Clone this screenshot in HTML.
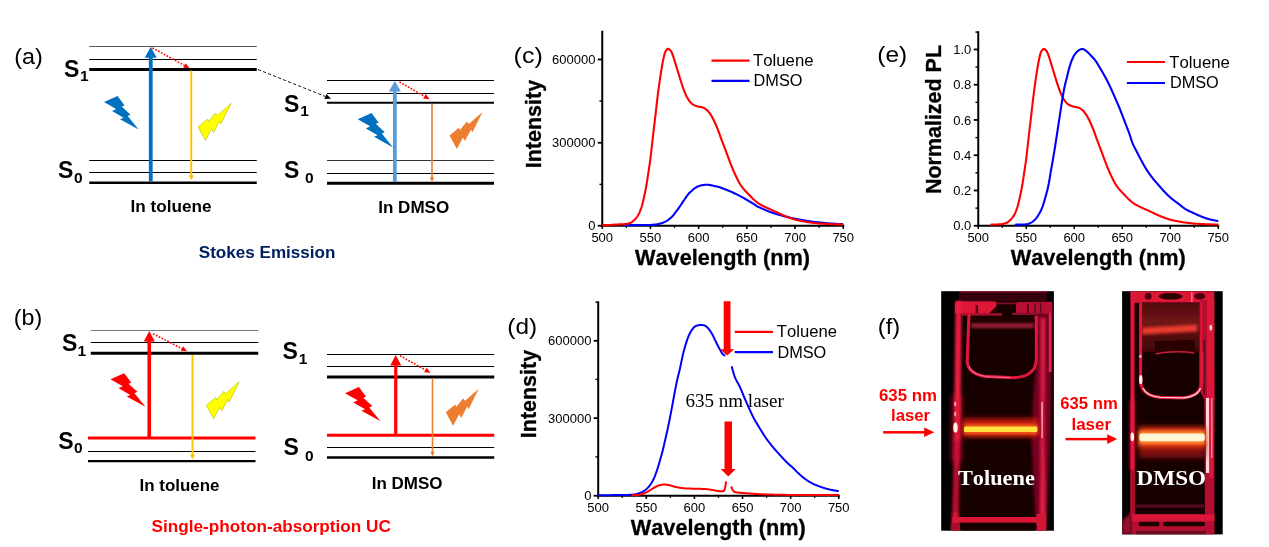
<!DOCTYPE html>
<html lang="en"><head><meta charset="utf-8"><title>Figure</title>
<style>html,body{margin:0;padding:0;background:#fff;}svg{display:block;will-change:transform}text{font-kerning:none}</style></head>
<body>
<svg width="1269" height="547" viewBox="0 0 1269 547">
<rect width="1269" height="547" fill="#fff"/>
<defs>
<filter id="b0" x="-5%" y="-5%" width="110%" height="110%"><feGaussianBlur stdDeviation="0.6"/></filter>
<filter id="b1" x="-50%" y="-50%" width="200%" height="200%"><feGaussianBlur stdDeviation="0.7"/></filter>
<filter id="b2" x="-50%" y="-50%" width="200%" height="200%"><feGaussianBlur stdDeviation="1.4"/></filter>
<filter id="b3" x="-50%" y="-50%" width="200%" height="200%"><feGaussianBlur stdDeviation="2.5"/></filter>
<filter id="b5" x="-50%" y="-50%" width="200%" height="200%"><feGaussianBlur stdDeviation="4.5"/></filter>
<clipPath id="cp1"><rect x="941.2" y="291.2" width="112.7" height="239.5"/></clipPath>
<clipPath id="cp2"><rect x="1122.1" y="291.2" width="100.6" height="243.2"/></clipPath>
</defs>
<text x="14.3" y="63.5" font-family="'Liberation Sans', Arial, sans-serif" font-size="22" font-weight="normal" fill="#000" text-anchor="start" textLength="28.6" lengthAdjust="spacingAndGlyphs" >(a)</text>
<line x1="89.25" y1="46.5" x2="256.75" y2="46.5" stroke="#555" stroke-width="1" />
<line x1="89.25" y1="59.5" x2="256.75" y2="59.5" stroke="#000" stroke-width="1" />
<line x1="89.25" y1="69.4" x2="256.75" y2="69.4" stroke="#000" stroke-width="3" />
<line x1="89.25" y1="160.5" x2="256.75" y2="160.5" stroke="#000" stroke-width="1" />
<line x1="89.25" y1="172.5" x2="256.75" y2="172.5" stroke="#000" stroke-width="1" />
<line x1="89.25" y1="182.75" x2="256.75" y2="182.75" stroke="#000" stroke-width="2.6" />
<rect x="190.3" y="70.5" width="1.9" height="105.80000000000001" fill="#ffc000"/>
<polygon points="191.25,180.3 193.75,175.3 188.75,175.3" fill="#ffc000"/>
<rect x="148.85" y="56.8" width="3.8" height="124.5" fill="#0070c0"/>
<polygon points="150.75,46.8 156.75,57.8 144.75,57.8" fill="#0070c0"/>
<line x1="152.5" y1="48" x2="184.41" y2="65.42" stroke="#ff0000" stroke-width="1.6" stroke-dasharray="1.7,1.5"/>
<polygon points="189.50,68.20 183.16,67.70 185.66,63.14" fill="#ff0000"/>
<polygon points="117.57,96.00 124.60,105.46 121.70,106.57 130.55,114.68 127.65,116.03 138.60,129.60 120.04,119.20 123.58,117.76 112.04,111.10 116.18,109.04 104.00,102.05" fill="#0070c0"/>
<polygon points="231.05,103.40 220.90,123.90 219.60,121.00 213.50,132.60 211.50,128.90 205.40,140.50 198.10,126.90 207.50,119.20 208.60,121.50 215.40,113.10 217.40,115.50" fill="#ffff00" stroke="#b9b900" stroke-width="0.6"/>
<text x="64" y="77" font-family="'Liberation Sans', Arial, sans-serif" font-size="23" font-weight="bold" fill="#000" text-anchor="start" >S</text>
<text x="80" y="81.25" font-family="'Liberation Sans', Arial, sans-serif" font-size="15.5" font-weight="bold" fill="#000" text-anchor="start" >1</text>
<text x="58" y="177.5" font-family="'Liberation Sans', Arial, sans-serif" font-size="23" font-weight="bold" fill="#000" text-anchor="start" >S</text>
<text x="74" y="182.5" font-family="'Liberation Sans', Arial, sans-serif" font-size="15.5" font-weight="bold" fill="#000" text-anchor="start" >0</text>
<text x="130.6" y="211.9" font-family="'Liberation Sans', Arial, sans-serif" font-size="17" font-weight="bold" fill="#000" text-anchor="start" textLength="81" lengthAdjust="spacingAndGlyphs" >In toluene</text>
<line x1="258" y1="69.5" x2="325.43" y2="96.52" stroke="#000" stroke-width="0.9" stroke-dasharray="3.2,2.2"/>
<polygon points="331.00,98.75 324.43,99.02 326.43,94.01" fill="#000"/>
<line x1="327" y1="80.5" x2="494" y2="80.5" stroke="#000" stroke-width="1" />
<line x1="327" y1="93.5" x2="494" y2="93.5" stroke="#000" stroke-width="1" />
<line x1="327" y1="102.75" x2="494" y2="102.75" stroke="#000" stroke-width="2.2" />
<line x1="327" y1="160.5" x2="494" y2="160.5" stroke="#333" stroke-width="1" />
<line x1="327" y1="173.5" x2="494" y2="173.5" stroke="#000" stroke-width="1" />
<line x1="327" y1="183.25" x2="494" y2="183.25" stroke="#000" stroke-width="3" />
<rect x="431.2" y="103.75" width="1.6" height="74.65" fill="#ed7d31"/>
<polygon points="432,182 434.2,177.4 429.8,177.4" fill="#ed7d31"/>
<rect x="392.95000000000005" y="90.5" width="3.8" height="91.5" fill="#5b9bd5"/>
<polygon points="394.85,81 400.85,91.5 388.85,91.5" fill="#5b9bd5"/>
<line x1="399.5" y1="82" x2="424.47" y2="96.32" stroke="#ff0000" stroke-width="1.6" stroke-dasharray="1.7,1.5"/>
<polygon points="429.50,99.20 423.18,98.57 425.76,94.06" fill="#ff0000"/>
<polygon points="371.55,112.90 378.72,122.64 375.76,123.79 384.79,132.13 381.83,133.53 393.00,147.50 374.06,136.79 377.67,135.31 365.91,128.45 370.12,126.33 357.70,119.13" fill="#0070c0"/>
<polygon points="482.50,111.90 472.35,132.40 471.05,129.50 464.95,141.10 462.95,137.40 456.85,149.00 449.55,135.40 458.95,127.70 460.05,130.00 466.85,121.60 468.85,124.00" fill="#ed7d31"/>
<text x="284" y="112" font-family="'Liberation Sans', Arial, sans-serif" font-size="23" font-weight="bold" fill="#000" text-anchor="start" >S</text>
<text x="300.3" y="116.25" font-family="'Liberation Sans', Arial, sans-serif" font-size="15.5" font-weight="bold" fill="#000" text-anchor="start" >1</text>
<text x="284" y="177.5" font-family="'Liberation Sans', Arial, sans-serif" font-size="23" font-weight="bold" fill="#000" text-anchor="start" >S</text>
<text x="305" y="182.5" font-family="'Liberation Sans', Arial, sans-serif" font-size="15.5" font-weight="bold" fill="#000" text-anchor="start" >0</text>
<text x="378.25" y="213" font-family="'Liberation Sans', Arial, sans-serif" font-size="17" font-weight="bold" fill="#000" text-anchor="start" textLength="71" lengthAdjust="spacingAndGlyphs" >In DMSO</text>
<text x="198.75" y="258" font-family="'Liberation Sans', Arial, sans-serif" font-size="17" font-weight="bold" fill="#002060" text-anchor="start" textLength="136.75" lengthAdjust="spacingAndGlyphs" >Stokes Emission</text>
<text x="13.8" y="325" font-family="'Liberation Sans', Arial, sans-serif" font-size="22" font-weight="normal" fill="#000" text-anchor="start" textLength="28.4" lengthAdjust="spacingAndGlyphs" >(b)</text>
<line x1="90.75" y1="330.5" x2="258.25" y2="330.5" stroke="#777" stroke-width="1" />
<line x1="90.75" y1="342.5" x2="258.25" y2="342.5" stroke="#000" stroke-width="1" />
<line x1="90.75" y1="353.25" x2="258.25" y2="353.25" stroke="#000" stroke-width="3" />
<line x1="88" y1="438" x2="255.5" y2="438" stroke="#ff0000" stroke-width="3" />
<line x1="88" y1="451.5" x2="255.5" y2="451.5" stroke="#000" stroke-width="1" />
<line x1="88" y1="461.1" x2="255.5" y2="461.1" stroke="#000" stroke-width="2.4" />
<rect x="191.5" y="355" width="1.9" height="100.5" fill="#ffc000"/>
<polygon points="192.45,459.5 194.95,454.5 189.95,454.5" fill="#ffc000"/>
<rect x="147.45" y="340.5" width="3.6" height="97.5" fill="#ff0000"/>
<polygon points="149.25,331 154.75,341.5 143.75,341.5" fill="#ff0000"/>
<line x1="153" y1="333.75" x2="181.84" y2="348.55" stroke="#ff0000" stroke-width="1.6" stroke-dasharray="1.7,1.5"/>
<polygon points="187.00,351.20 180.65,350.86 183.03,346.24" fill="#ff0000"/>
<polygon points="124.23,373.25 131.34,382.68 128.41,383.79 137.36,391.87 134.43,393.22 145.50,406.75 126.72,396.38 130.30,394.94 118.64,388.30 122.82,386.25 110.50,379.28" fill="#ff0000"/>
<polygon points="239.25,381.75 229.10,402.25 227.80,399.35 221.70,410.95 219.70,407.25 213.60,418.85 206.30,405.25 215.70,397.55 216.80,399.85 223.60,391.45 225.60,393.85" fill="#ffff00" stroke="#b9b900" stroke-width="0.6"/>
<text x="62" y="351.25" font-family="'Liberation Sans', Arial, sans-serif" font-size="23" font-weight="bold" fill="#000" text-anchor="start" >S</text>
<text x="77.5" y="355.5" font-family="'Liberation Sans', Arial, sans-serif" font-size="15.5" font-weight="bold" fill="#000" text-anchor="start" >1</text>
<text x="58.25" y="448.5" font-family="'Liberation Sans', Arial, sans-serif" font-size="23" font-weight="bold" fill="#000" text-anchor="start" >S</text>
<text x="74" y="453" font-family="'Liberation Sans', Arial, sans-serif" font-size="15.5" font-weight="bold" fill="#000" text-anchor="start" >0</text>
<text x="139.5" y="491" font-family="'Liberation Sans', Arial, sans-serif" font-size="17" font-weight="bold" fill="#000" text-anchor="start" textLength="80" lengthAdjust="spacingAndGlyphs" >In toluene</text>
<line x1="327" y1="354.5" x2="494.25" y2="354.5" stroke="#000" stroke-width="1" />
<line x1="327" y1="366.5" x2="494.25" y2="366.5" stroke="#000" stroke-width="1" />
<line x1="327" y1="377" x2="494.25" y2="377" stroke="#000" stroke-width="3" />
<line x1="327" y1="435.25" x2="494.25" y2="435.25" stroke="#ff0000" stroke-width="3" />
<line x1="327" y1="447.5" x2="494.25" y2="447.5" stroke="#000" stroke-width="1" />
<line x1="327" y1="457.5" x2="494.25" y2="457.5" stroke="#000" stroke-width="2.6" />
<rect x="431.7" y="378.25" width="1.6" height="74.45000000000002" fill="#ed7d31"/>
<polygon points="432.5,456.3 434.7,451.7 430.3,451.7" fill="#ed7d31"/>
<rect x="394.15" y="364.5" width="3.2" height="70.75" fill="#ff0000"/>
<polygon points="395.75,355 401.25,365.5 390.25,365.5" fill="#ff0000"/>
<line x1="400" y1="355.75" x2="425.44" y2="369.97" stroke="#ff0000" stroke-width="1.6" stroke-dasharray="1.7,1.5"/>
<polygon points="430.50,372.80 424.17,372.24 426.71,367.70" fill="#ff0000"/>
<polygon points="358.92,387.00 366.14,396.64 363.16,397.78 372.24,406.04 369.27,407.42 380.50,421.25 361.45,410.65 365.09,409.18 353.25,402.39 357.49,400.29 345.00,393.17" fill="#ff0000"/>
<polygon points="478.75,388.75 468.60,409.25 467.30,406.35 461.20,417.95 459.20,414.25 453.10,425.85 445.80,412.25 455.20,404.55 456.30,406.85 463.10,398.45 465.10,400.85" fill="#ed7d31"/>
<text x="282.5" y="358.5" font-family="'Liberation Sans', Arial, sans-serif" font-size="23" font-weight="bold" fill="#000" text-anchor="start" >S</text>
<text x="298.7" y="363.75" font-family="'Liberation Sans', Arial, sans-serif" font-size="15.5" font-weight="bold" fill="#000" text-anchor="start" >1</text>
<text x="283.5" y="454.5" font-family="'Liberation Sans', Arial, sans-serif" font-size="23" font-weight="bold" fill="#000" text-anchor="start" >S</text>
<text x="305" y="460.5" font-family="'Liberation Sans', Arial, sans-serif" font-size="15.5" font-weight="bold" fill="#000" text-anchor="start" >0</text>
<text x="371.75" y="488.5" font-family="'Liberation Sans', Arial, sans-serif" font-size="17" font-weight="bold" fill="#000" text-anchor="start" textLength="70.75" lengthAdjust="spacingAndGlyphs" >In DMSO</text>
<text x="151.6" y="532.1" font-family="'Liberation Sans', Arial, sans-serif" font-size="17" font-weight="bold" fill="#ff0000" text-anchor="start" textLength="239.25" lengthAdjust="spacingAndGlyphs" >Single-photon-absorption UC</text>
<text x="513.6" y="63" font-family="'Liberation Sans', Arial, sans-serif" font-size="22" font-weight="normal" fill="#000" text-anchor="start" textLength="29.2" lengthAdjust="spacingAndGlyphs" >(c)</text>
<line x1="602.25" y1="30.75" x2="602.25" y2="226.75" stroke="#000" stroke-width="2" />
<line x1="601.25" y1="225.75" x2="844.25" y2="225.75" stroke="#000" stroke-width="2" />
<line x1="597.75" y1="59.5" x2="602.25" y2="59.5" stroke="#000" stroke-width="1.8" />
<line x1="597.75" y1="142.75" x2="602.25" y2="142.75" stroke="#000" stroke-width="1.8" />
<line x1="597.75" y1="225.75" x2="602.25" y2="225.75" stroke="#000" stroke-width="1.8" />
<line x1="599.45" y1="101.1" x2="602.25" y2="101.1" stroke="#000" stroke-width="1.4" />
<line x1="599.45" y1="184.4" x2="602.25" y2="184.4" stroke="#000" stroke-width="1.4" />
<line x1="602.25" y1="225.75" x2="602.25" y2="228.95" stroke="#000" stroke-width="1.6" />
<text x="602.25" y="241.8" font-family="'Liberation Sans', Arial, sans-serif" font-size="13" font-weight="normal" fill="#000" text-anchor="middle" >500</text>
<line x1="650.45" y1="225.75" x2="650.45" y2="228.95" stroke="#000" stroke-width="1.6" />
<text x="650.45" y="241.8" font-family="'Liberation Sans', Arial, sans-serif" font-size="13" font-weight="normal" fill="#000" text-anchor="middle" >550</text>
<line x1="698.65" y1="225.75" x2="698.65" y2="228.95" stroke="#000" stroke-width="1.6" />
<text x="698.65" y="241.8" font-family="'Liberation Sans', Arial, sans-serif" font-size="13" font-weight="normal" fill="#000" text-anchor="middle" >600</text>
<line x1="746.85" y1="225.75" x2="746.85" y2="228.95" stroke="#000" stroke-width="1.6" />
<text x="746.85" y="241.8" font-family="'Liberation Sans', Arial, sans-serif" font-size="13" font-weight="normal" fill="#000" text-anchor="middle" >650</text>
<line x1="795.05" y1="225.75" x2="795.05" y2="228.95" stroke="#000" stroke-width="1.6" />
<text x="795.05" y="241.8" font-family="'Liberation Sans', Arial, sans-serif" font-size="13" font-weight="normal" fill="#000" text-anchor="middle" >700</text>
<line x1="843.25" y1="225.75" x2="843.25" y2="228.95" stroke="#000" stroke-width="1.6" />
<text x="843.25" y="241.8" font-family="'Liberation Sans', Arial, sans-serif" font-size="13" font-weight="normal" fill="#000" text-anchor="middle" >750</text>
<line x1="626.35" y1="225.75" x2="626.35" y2="227.95" stroke="#000" stroke-width="1.2" />
<line x1="674.55" y1="225.75" x2="674.55" y2="227.95" stroke="#000" stroke-width="1.2" />
<line x1="722.75" y1="225.75" x2="722.75" y2="227.95" stroke="#000" stroke-width="1.2" />
<line x1="770.95" y1="225.75" x2="770.95" y2="227.95" stroke="#000" stroke-width="1.2" />
<line x1="819.15" y1="225.75" x2="819.15" y2="227.95" stroke="#000" stroke-width="1.2" />
<text x="595.45" y="63.9" font-family="'Liberation Sans', Arial, sans-serif" font-size="13" font-weight="normal" fill="#000" text-anchor="end" >600000</text>
<text x="595.45" y="147.2" font-family="'Liberation Sans', Arial, sans-serif" font-size="13" font-weight="normal" fill="#000" text-anchor="end" >300000</text>
<text x="595.45" y="230.2" font-family="'Liberation Sans', Arial, sans-serif" font-size="13" font-weight="normal" fill="#000" text-anchor="end" >0</text>
<text x="635" y="265" font-family="'Liberation Sans', Arial, sans-serif" font-size="21.5" font-weight="bold" fill="#000" text-anchor="start" textLength="175" lengthAdjust="spacingAndGlyphs" stroke="#000" stroke-width="0.3">Wavelength (nm)</text>
<path d="M624.42,225.13 L624.90,225.13 L625.39,225.12 L625.87,225.12 L626.35,225.12 L626.83,225.12 L627.31,225.12 L627.80,225.12 L628.28,225.12 L628.76,225.12 L629.24,225.11 L629.72,225.11 L630.21,225.11 L630.69,225.11 L631.17,225.11 L631.65,225.11 L632.13,225.10 L632.62,225.10 L633.10,225.10 L633.58,225.09 L634.06,225.09 L634.54,225.08 L635.03,225.08 L635.51,225.07 L635.99,225.06 L636.47,225.06 L636.95,225.05 L637.44,225.05 L637.92,225.04 L638.40,225.04 L638.88,225.03 L639.36,225.03 L639.85,225.02 L640.33,225.02 L640.81,225.02 L641.29,225.01 L641.77,225.01 L642.26,225.01 L642.74,225.01 L643.22,225.00 L643.70,225.00 L644.18,225.00 L644.67,225.00 L645.15,224.99 L645.63,224.99 L646.11,224.99 L646.59,224.99 L647.08,224.98 L647.56,224.98 L648.04,224.97 L648.52,224.97 L649.00,224.96 L649.49,224.96 L649.97,224.95 L650.45,224.94 L650.93,224.93 L651.41,224.91 L651.90,224.88 L652.38,224.84 L652.86,224.80 L653.34,224.76 L653.82,224.71 L654.31,224.66 L654.79,224.61 L655.27,224.56 L655.75,224.50 L656.23,224.43 L656.72,224.35 L657.20,224.26 L657.68,224.17 L658.16,224.08 L658.64,223.98 L659.13,223.88 L659.61,223.76 L660.09,223.64 L660.57,223.50 L661.05,223.35 L661.54,223.20 L662.02,223.04 L662.50,222.87 L662.98,222.69 L663.46,222.51 L663.95,222.31 L664.43,222.10 L664.91,221.88 L665.39,221.64 L665.87,221.40 L666.36,221.13 L666.84,220.85 L667.32,220.54 L667.80,220.20 L668.28,219.84 L668.77,219.46 L669.25,219.07 L669.73,218.68 L670.21,218.29 L670.69,217.89 L671.18,217.48 L671.66,217.04 L672.14,216.59 L672.62,216.10 L673.10,215.56 L673.59,214.94 L674.07,214.28 L674.55,213.59 L675.03,212.92 L675.51,212.28 L676.00,211.67 L676.48,211.06 L676.96,210.44 L677.44,209.80 L677.92,209.16 L678.41,208.50 L678.89,207.83 L679.37,207.14 L679.85,206.44 L680.33,205.72 L680.82,204.99 L681.30,204.27 L681.78,203.55 L682.26,202.84 L682.74,202.12 L683.23,201.40 L683.71,200.69 L684.19,199.97 L684.67,199.25 L685.15,198.51 L685.64,197.79 L686.12,197.08 L686.60,196.40 L687.08,195.73 L687.56,195.08 L688.05,194.45 L688.53,193.85 L689.01,193.30 L689.49,192.81 L689.97,192.36 L690.46,191.94 L690.94,191.53 L691.42,191.11 L691.90,190.66 L692.38,190.18 L692.87,189.71 L693.35,189.28 L693.83,188.89 L694.31,188.53 L694.79,188.18 L695.28,187.85 L695.76,187.54 L696.24,187.26 L696.72,187.01 L697.20,186.77 L697.69,186.55 L698.17,186.34 L698.65,186.16 L699.13,185.98 L699.61,185.83 L700.10,185.69 L700.58,185.56 L701.06,185.43 L701.54,185.32 L702.02,185.22 L702.51,185.13 L702.99,185.06 L703.47,184.99 L703.95,184.93 L704.43,184.87 L704.92,184.82 L705.40,184.77 L705.88,184.74 L706.36,184.72 L706.84,184.71 L707.33,184.72 L707.81,184.75 L708.29,184.80 L708.77,184.87 L709.25,184.94 L709.74,185.02 L710.22,185.10 L710.70,185.19 L711.18,185.27 L711.66,185.35 L712.15,185.45 L712.63,185.56 L713.11,185.67 L713.59,185.78 L714.07,185.90 L714.56,186.02 L715.04,186.13 L715.52,186.25 L716.00,186.36 L716.48,186.48 L716.97,186.59 L717.45,186.71 L717.93,186.83 L718.41,186.96 L718.89,187.09 L719.38,187.22 L719.86,187.37 L720.34,187.52 L720.82,187.68 L721.30,187.85 L721.79,188.03 L722.27,188.21 L722.75,188.40 L723.23,188.58 L723.71,188.77 L724.20,188.95 L724.68,189.13 L725.16,189.32 L725.64,189.50 L726.12,189.69 L726.61,189.88 L727.09,190.07 L727.57,190.26 L728.05,190.46 L728.53,190.65 L729.02,190.85 L729.50,191.05 L729.98,191.25 L730.46,191.45 L730.94,191.66 L731.43,191.87 L731.91,192.08 L732.39,192.29 L732.87,192.51 L733.35,192.74 L733.84,192.97 L734.32,193.21 L734.80,193.45 L735.28,193.69 L735.76,193.93 L736.25,194.18 L736.73,194.42 L737.21,194.67 L737.69,194.91 L738.17,195.16 L738.66,195.41 L739.14,195.66 L739.62,195.91 L740.10,196.16 L740.58,196.42 L741.07,196.67 L741.55,196.92 L742.03,197.17 L742.51,197.42 L742.99,197.67 L743.48,197.93 L743.96,198.19 L744.44,198.46 L744.92,198.73 L745.40,199.01 L745.89,199.30 L746.37,199.59 L746.85,199.88 L747.33,200.18 L747.81,200.47 L748.30,200.77 L748.78,201.06 L749.26,201.35 L749.74,201.63 L750.22,201.91 L750.71,202.19 L751.19,202.46 L751.67,202.74 L752.15,203.02 L752.63,203.31 L753.12,203.60 L753.60,203.90 L754.08,204.21 L754.56,204.55 L755.04,204.89 L755.53,205.23 L756.01,205.56 L756.49,205.88 L756.97,206.18 L757.45,206.45 L757.94,206.70 L758.42,206.94 L758.90,207.17 L759.38,207.39 L759.86,207.60 L760.35,207.81 L760.83,208.02 L761.31,208.23 L761.79,208.45 L762.27,208.67 L762.76,208.88 L763.24,209.10 L763.72,209.31 L764.20,209.52 L764.68,209.73 L765.17,209.94 L765.65,210.15 L766.13,210.35 L766.61,210.55 L767.09,210.75 L767.58,210.95 L768.06,211.15 L768.54,211.35 L769.02,211.54 L769.50,211.73 L769.99,211.91 L770.47,212.09 L770.95,212.26 L771.43,212.43 L771.91,212.60 L772.40,212.77 L772.88,212.93 L773.36,213.10 L773.84,213.26 L774.32,213.41 L774.81,213.57 L775.29,213.72 L775.77,213.87 L776.25,214.02 L776.73,214.16 L777.22,214.30 L777.70,214.44 L778.18,214.58 L778.66,214.71 L779.14,214.85 L779.63,214.98 L780.11,215.11 L780.59,215.23 L781.07,215.36 L781.55,215.49 L782.04,215.61 L782.52,215.74 L783.00,215.86 L783.48,215.99 L783.96,216.12 L784.45,216.24 L784.93,216.37 L785.41,216.50 L785.89,216.62 L786.37,216.75 L786.86,216.87 L787.34,216.99 L787.82,217.11 L788.30,217.23 L788.78,217.35 L789.27,217.47 L789.75,217.58 L790.23,217.69 L790.71,217.81 L791.19,217.92 L791.68,218.03 L792.16,218.14 L792.64,218.25 L793.12,218.36 L793.60,218.46 L794.09,218.57 L794.57,218.67 L795.05,218.77 L795.53,218.86 L796.01,218.96 L796.50,219.05 L796.98,219.14 L797.46,219.22 L797.94,219.31 L798.42,219.39 L798.91,219.48 L799.39,219.56 L799.87,219.64 L800.35,219.72 L800.83,219.80 L801.32,219.88 L801.80,219.96 L802.28,220.04 L802.76,220.13 L803.24,220.21 L803.73,220.29 L804.21,220.38 L804.69,220.47 L805.17,220.56 L805.65,220.65 L806.14,220.73 L806.62,220.82 L807.10,220.91 L807.58,220.99 L808.06,221.08 L808.55,221.16 L809.03,221.24 L809.51,221.32 L809.99,221.39 L810.47,221.46 L810.96,221.52 L811.44,221.58 L811.92,221.64 L812.40,221.70 L812.88,221.76 L813.37,221.82 L813.85,221.87 L814.33,221.92 L814.81,221.97 L815.29,222.02 L815.78,222.08 L816.26,222.13 L816.74,222.18 L817.22,222.23 L817.70,222.28 L818.19,222.33 L818.67,222.38 L819.15,222.43 L819.63,222.48 L820.11,222.54 L820.60,222.59 L821.08,222.64 L821.56,222.69 L822.04,222.74 L822.52,222.79 L823.01,222.84 L823.49,222.89 L823.97,222.93 L824.45,222.98 L824.93,223.03 L825.42,223.07 L825.90,223.11 L826.38,223.16 L826.86,223.20 L827.34,223.24 L827.83,223.28 L828.31,223.32 L828.79,223.37 L829.27,223.41 L829.75,223.45 L830.24,223.48 L830.72,223.52 L831.20,223.56 L831.68,223.60 L832.16,223.63 L832.65,223.67 L833.13,223.70 L833.61,223.73 L834.09,223.76 L834.57,223.79 L835.06,223.81 L835.54,223.84 L836.02,223.87 L836.50,223.89 L836.98,223.92 L837.47,223.94 L837.95,223.97 L838.43,223.99 L838.91,224.01 L839.39,224.04 L839.88,224.06 L840.36,224.08 L840.84,224.10 L841.32,224.11 L841.80,224.13 L842.29,224.15 L842.77,224.16 L843.25,224.18" fill="none" stroke="#0000ff" stroke-width="2.1" stroke-linejoin="round"/>
<path d="M602.25,225.15 L602.73,225.15 L603.21,225.15 L603.70,225.14 L604.18,225.14 L604.66,225.13 L605.14,225.12 L605.62,225.11 L606.11,225.10 L606.59,225.08 L607.07,225.07 L607.55,225.06 L608.03,225.04 L608.52,225.03 L609.00,225.01 L609.48,224.99 L609.96,224.97 L610.44,224.95 L610.93,224.92 L611.41,224.89 L611.89,224.85 L612.37,224.80 L612.85,224.76 L613.34,224.72 L613.82,224.68 L614.30,224.64 L614.78,224.61 L615.26,224.58 L615.75,224.56 L616.23,224.53 L616.71,224.51 L617.19,224.49 L617.67,224.47 L618.16,224.46 L618.64,224.44 L619.12,224.42 L619.60,224.41 L620.08,224.39 L620.57,224.37 L621.05,224.35 L621.53,224.33 L622.01,224.31 L622.49,224.28 L622.98,224.26 L623.46,224.23 L623.94,224.20 L624.42,224.16 L624.90,224.13 L625.39,224.08 L625.87,224.03 L626.35,223.96 L626.83,223.87 L627.31,223.77 L627.80,223.65 L628.28,223.52 L628.76,223.38 L629.24,223.23 L629.72,223.07 L630.21,222.89 L630.69,222.70 L631.17,222.45 L631.65,222.16 L632.13,221.83 L632.62,221.47 L633.10,221.08 L633.58,220.66 L634.06,220.22 L634.54,219.78 L635.03,219.31 L635.51,218.80 L635.99,218.24 L636.47,217.65 L636.95,217.00 L637.44,216.30 L637.92,215.55 L638.40,214.75 L638.88,213.85 L639.36,212.83 L639.85,211.71 L640.33,210.48 L640.81,209.15 L641.29,207.75 L641.77,206.24 L642.26,204.53 L642.74,202.65 L643.22,200.65 L643.70,198.56 L644.18,196.44 L644.67,194.23 L645.15,191.91 L645.63,189.48 L646.11,186.92 L646.59,184.22 L647.08,181.27 L647.56,178.10 L648.04,174.84 L648.52,171.62 L649.00,168.50 L649.49,165.35 L649.97,162.04 L650.45,158.41 L650.93,154.37 L651.41,150.14 L651.90,145.93 L652.38,141.63 L652.86,137.32 L653.34,133.07 L653.82,128.95 L654.31,124.92 L654.79,120.92 L655.27,116.84 L655.75,112.61 L656.23,108.24 L656.72,103.90 L657.20,99.79 L657.68,95.92 L658.16,92.17 L658.64,88.54 L659.13,85.02 L659.61,81.60 L660.09,78.27 L660.57,75.04 L661.05,71.94 L661.54,68.98 L662.02,66.14 L662.50,63.38 L662.98,60.80 L663.46,58.54 L663.95,56.45 L664.43,54.46 L664.91,52.80 L665.39,51.66 L665.87,50.88 L666.36,50.17 L666.84,49.58 L667.32,49.14 L667.80,48.88 L668.28,48.85 L668.77,49.01 L669.25,49.31 L669.73,49.72 L670.21,50.23 L670.69,50.78 L671.18,51.40 L671.66,52.30 L672.14,53.46 L672.62,54.80 L673.10,56.20 L673.59,57.58 L674.07,59.02 L674.55,60.58 L675.03,62.19 L675.51,63.82 L676.00,65.41 L676.48,66.97 L676.96,68.53 L677.44,70.09 L677.92,71.65 L678.41,73.21 L678.89,74.78 L679.37,76.36 L679.85,77.94 L680.33,79.50 L680.82,81.03 L681.30,82.53 L681.78,84.01 L682.26,85.47 L682.74,86.89 L683.23,88.25 L683.71,89.55 L684.19,90.82 L684.67,92.06 L685.15,93.26 L685.64,94.40 L686.12,95.47 L686.60,96.44 L687.08,97.34 L687.56,98.18 L688.05,98.96 L688.53,99.69 L689.01,100.37 L689.49,101.01 L689.97,101.63 L690.46,102.23 L690.94,102.79 L691.42,103.30 L691.90,103.73 L692.38,104.09 L692.87,104.40 L693.35,104.69 L693.83,104.95 L694.31,105.20 L694.79,105.42 L695.28,105.63 L695.76,105.83 L696.24,106.00 L696.72,106.17 L697.20,106.32 L697.69,106.45 L698.17,106.56 L698.65,106.67 L699.13,106.75 L699.61,106.84 L700.10,106.92 L700.58,107.00 L701.06,107.09 L701.54,107.19 L702.02,107.30 L702.51,107.43 L702.99,107.58 L703.47,107.77 L703.95,108.00 L704.43,108.27 L704.92,108.57 L705.40,108.89 L705.88,109.24 L706.36,109.61 L706.84,110.00 L707.33,110.44 L707.81,110.93 L708.29,111.47 L708.77,112.05 L709.25,112.66 L709.74,113.31 L710.22,113.98 L710.70,114.68 L711.18,115.44 L711.66,116.26 L712.15,117.13 L712.63,118.05 L713.11,118.99 L713.59,119.95 L714.07,120.93 L714.56,121.92 L715.04,122.95 L715.52,124.02 L716.00,125.12 L716.48,126.24 L716.97,127.39 L717.45,128.57 L717.93,129.77 L718.41,131.00 L718.89,132.30 L719.38,133.63 L719.86,134.98 L720.34,136.34 L720.82,137.70 L721.30,139.03 L721.79,140.33 L722.27,141.61 L722.75,142.88 L723.23,144.14 L723.71,145.40 L724.20,146.65 L724.68,147.91 L725.16,149.18 L725.64,150.46 L726.12,151.75 L726.61,153.04 L727.09,154.34 L727.57,155.63 L728.05,156.93 L728.53,158.21 L729.02,159.49 L729.50,160.76 L729.98,162.03 L730.46,163.31 L730.94,164.57 L731.43,165.81 L731.91,167.03 L732.39,168.20 L732.87,169.34 L733.35,170.47 L733.84,171.57 L734.32,172.65 L734.80,173.72 L735.28,174.76 L735.76,175.78 L736.25,176.78 L736.73,177.76 L737.21,178.73 L737.69,179.69 L738.17,180.64 L738.66,181.55 L739.14,182.44 L739.62,183.28 L740.10,184.07 L740.58,184.82 L741.07,185.54 L741.55,186.23 L742.03,186.90 L742.51,187.54 L742.99,188.17 L743.48,188.77 L743.96,189.36 L744.44,189.93 L744.92,190.47 L745.40,191.00 L745.89,191.51 L746.37,192.01 L746.85,192.51 L747.33,192.99 L747.81,193.48 L748.30,193.97 L748.78,194.47 L749.26,194.98 L749.74,195.49 L750.22,196.00 L750.71,196.51 L751.19,197.02 L751.67,197.53 L752.15,198.02 L752.63,198.50 L753.12,198.96 L753.60,199.41 L754.08,199.84 L754.56,200.27 L755.04,200.70 L755.53,201.11 L756.01,201.52 L756.49,201.91 L756.97,202.29 L757.45,202.66 L757.94,203.01 L758.42,203.34 L758.90,203.65 L759.38,203.95 L759.86,204.24 L760.35,204.52 L760.83,204.79 L761.31,205.05 L761.79,205.31 L762.27,205.56 L762.76,205.80 L763.24,206.04 L763.72,206.28 L764.20,206.51 L764.68,206.75 L765.17,206.98 L765.65,207.21 L766.13,207.44 L766.61,207.67 L767.09,207.89 L767.58,208.11 L768.06,208.32 L768.54,208.53 L769.02,208.74 L769.50,208.95 L769.99,209.16 L770.47,209.36 L770.95,209.57 L771.43,209.78 L771.91,210.00 L772.40,210.21 L772.88,210.43 L773.36,210.65 L773.84,210.88 L774.32,211.10 L774.81,211.33 L775.29,211.57 L775.77,211.80 L776.25,212.03 L776.73,212.27 L777.22,212.50 L777.70,212.73 L778.18,212.97 L778.66,213.20 L779.14,213.42 L779.63,213.65 L780.11,213.87 L780.59,214.09 L781.07,214.30 L781.55,214.52 L782.04,214.73 L782.52,214.94 L783.00,215.16 L783.48,215.37 L783.96,215.58 L784.45,215.78 L784.93,215.99 L785.41,216.19 L785.89,216.39 L786.37,216.58 L786.86,216.78 L787.34,216.96 L787.82,217.14 L788.30,217.32 L788.78,217.50 L789.27,217.68 L789.75,217.85 L790.23,218.02 L790.71,218.19 L791.19,218.36 L791.68,218.52 L792.16,218.68 L792.64,218.84 L793.12,218.99 L793.60,219.14 L794.09,219.28 L794.57,219.42 L795.05,219.56 L795.53,219.68 L796.01,219.81 L796.50,219.93 L796.98,220.04 L797.46,220.15 L797.94,220.26 L798.42,220.37 L798.91,220.47 L799.39,220.58 L799.87,220.67 L800.35,220.77 L800.83,220.87 L801.32,220.96 L801.80,221.05 L802.28,221.15 L802.76,221.24 L803.24,221.32 L803.73,221.41 L804.21,221.50 L804.69,221.59 L805.17,221.68 L805.65,221.76 L806.14,221.85 L806.62,221.93 L807.10,222.01 L807.58,222.09 L808.06,222.16 L808.55,222.24 L809.03,222.31 L809.51,222.38 L809.99,222.44 L810.47,222.51 L810.96,222.57 L811.44,222.63 L811.92,222.68 L812.40,222.74 L812.88,222.80 L813.37,222.86 L813.85,222.91 L814.33,222.97 L814.81,223.02 L815.29,223.08 L815.78,223.13 L816.26,223.18 L816.74,223.23 L817.22,223.28 L817.70,223.33 L818.19,223.37 L818.67,223.42 L819.15,223.46 L819.63,223.50 L820.11,223.54 L820.60,223.58 L821.08,223.61 L821.56,223.65 L822.04,223.68 L822.52,223.71 L823.01,223.73 L823.49,223.76 L823.97,223.79 L824.45,223.81 L824.93,223.84 L825.42,223.86 L825.90,223.89 L826.38,223.91 L826.86,223.94 L827.34,223.96 L827.83,223.99 L828.31,224.01 L828.79,224.03 L829.27,224.06 L829.75,224.08 L830.24,224.10 L830.72,224.12 L831.20,224.14 L831.68,224.17 L832.16,224.19 L832.65,224.21 L833.13,224.22 L833.61,224.24 L834.09,224.26 L834.57,224.28 L835.06,224.30 L835.54,224.31 L836.02,224.33 L836.50,224.34 L836.98,224.35 L837.47,224.37 L837.95,224.38 L838.43,224.39 L838.91,224.40 L839.39,224.41 L839.88,224.42 L840.36,224.42 L840.84,224.43 L841.32,224.44 L841.80,224.44 L842.29,224.44 L842.77,224.44 L843.25,224.44" fill="none" stroke="#ff0000" stroke-width="2.1" stroke-linejoin="round"/>
<line x1="711.5" y1="60.6" x2="749.5" y2="60.6" stroke="#ff0000" stroke-width="2.2" />
<line x1="711.5" y1="80.9" x2="749.5" y2="80.9" stroke="#0000ff" stroke-width="2.2" />
<text x="753" y="65.9" font-family="'Liberation Sans', Arial, sans-serif" font-size="16.3" font-weight="normal" fill="#000" text-anchor="start" textLength="60.6" lengthAdjust="spacingAndGlyphs" >Toluene</text>
<text x="753.6" y="86.4" font-family="'Liberation Sans', Arial, sans-serif" font-size="16.3" font-weight="normal" fill="#000" text-anchor="start" >DMSO</text>
<text transform="translate(541.3,168.3) rotate(-90)" font-family="'Liberation Sans', Arial, sans-serif" font-size="21.5" font-weight="bold" stroke="#000" stroke-width="0.3" textLength="88.5" lengthAdjust="spacingAndGlyphs">Intensity</text>
<text x="507.3" y="334.2" font-family="'Liberation Sans', Arial, sans-serif" font-size="22" font-weight="normal" fill="#000" text-anchor="start" textLength="29.8" lengthAdjust="spacingAndGlyphs" >(d)</text>
<line x1="598.2" y1="301.3" x2="598.2" y2="496.75" stroke="#000" stroke-width="2" />
<line x1="597.2" y1="495.75" x2="839.75" y2="495.75" stroke="#000" stroke-width="2" />
<line x1="593.7" y1="340.8" x2="598.2" y2="340.8" stroke="#000" stroke-width="1.8" />
<line x1="593.7" y1="418.1" x2="598.2" y2="418.1" stroke="#000" stroke-width="1.8" />
<line x1="593.7" y1="495.75" x2="598.2" y2="495.75" stroke="#000" stroke-width="1.8" />
<line x1="595.4000000000001" y1="302.2" x2="598.2" y2="302.2" stroke="#000" stroke-width="1.4" />
<line x1="595.4000000000001" y1="379.4" x2="598.2" y2="379.4" stroke="#000" stroke-width="1.4" />
<line x1="595.4000000000001" y1="456.9" x2="598.2" y2="456.9" stroke="#000" stroke-width="1.4" />
<line x1="598.2" y1="495.75" x2="598.2" y2="498.95" stroke="#000" stroke-width="1.6" />
<text x="598.2" y="512.3" font-family="'Liberation Sans', Arial, sans-serif" font-size="13" font-weight="normal" fill="#000" text-anchor="middle" >500</text>
<line x1="646.3100000000001" y1="495.75" x2="646.3100000000001" y2="498.95" stroke="#000" stroke-width="1.6" />
<text x="646.31" y="512.3" font-family="'Liberation Sans', Arial, sans-serif" font-size="13" font-weight="normal" fill="#000" text-anchor="middle" >550</text>
<line x1="694.4200000000001" y1="495.75" x2="694.4200000000001" y2="498.95" stroke="#000" stroke-width="1.6" />
<text x="694.42" y="512.3" font-family="'Liberation Sans', Arial, sans-serif" font-size="13" font-weight="normal" fill="#000" text-anchor="middle" >600</text>
<line x1="742.5300000000001" y1="495.75" x2="742.5300000000001" y2="498.95" stroke="#000" stroke-width="1.6" />
<text x="742.53" y="512.3" font-family="'Liberation Sans', Arial, sans-serif" font-size="13" font-weight="normal" fill="#000" text-anchor="middle" >650</text>
<line x1="790.6400000000001" y1="495.75" x2="790.6400000000001" y2="498.95" stroke="#000" stroke-width="1.6" />
<text x="790.64" y="512.3" font-family="'Liberation Sans', Arial, sans-serif" font-size="13" font-weight="normal" fill="#000" text-anchor="middle" >700</text>
<line x1="838.75" y1="495.75" x2="838.75" y2="498.95" stroke="#000" stroke-width="1.6" />
<text x="838.75" y="512.3" font-family="'Liberation Sans', Arial, sans-serif" font-size="13" font-weight="normal" fill="#000" text-anchor="middle" >750</text>
<line x1="622.255" y1="495.75" x2="622.255" y2="497.95" stroke="#000" stroke-width="1.2" />
<line x1="670.365" y1="495.75" x2="670.365" y2="497.95" stroke="#000" stroke-width="1.2" />
<line x1="718.475" y1="495.75" x2="718.475" y2="497.95" stroke="#000" stroke-width="1.2" />
<line x1="766.585" y1="495.75" x2="766.585" y2="497.95" stroke="#000" stroke-width="1.2" />
<line x1="814.695" y1="495.75" x2="814.695" y2="497.95" stroke="#000" stroke-width="1.2" />
<text x="591.4000000000001" y="345.2" font-family="'Liberation Sans', Arial, sans-serif" font-size="13" font-weight="normal" fill="#000" text-anchor="end" >600000</text>
<text x="591.4000000000001" y="422.5" font-family="'Liberation Sans', Arial, sans-serif" font-size="13" font-weight="normal" fill="#000" text-anchor="end" >300000</text>
<text x="591.4000000000001" y="500.2" font-family="'Liberation Sans', Arial, sans-serif" font-size="13" font-weight="normal" fill="#000" text-anchor="end" >0</text>
<text x="630.75" y="535.25" font-family="'Liberation Sans', Arial, sans-serif" font-size="21.5" font-weight="bold" fill="#000" text-anchor="start" textLength="175" lengthAdjust="spacingAndGlyphs" stroke="#000" stroke-width="0.3">Wavelength (nm)</text>
<path d="M598.20,495.15 L598.58,495.15 L598.97,495.15 L599.35,495.15 L599.74,495.15 L600.12,495.15 L600.51,495.15 L600.89,495.15 L601.28,495.15 L601.66,495.15 L602.05,495.15 L602.43,495.15 L602.82,495.15 L603.20,495.15 L603.59,495.15 L603.97,495.15 L604.36,495.14 L604.74,495.14 L605.13,495.14 L605.51,495.14 L605.90,495.14 L606.28,495.14 L606.67,495.14 L607.05,495.14 L607.44,495.14 L607.82,495.14 L608.21,495.14 L608.59,495.14 L608.98,495.13 L609.36,495.13 L609.75,495.13 L610.13,495.13 L610.52,495.13 L610.90,495.13 L611.29,495.13 L611.67,495.13 L612.06,495.13 L612.44,495.12 L612.83,495.12 L613.21,495.12 L613.60,495.12 L613.98,495.12 L614.36,495.12 L614.75,495.12 L615.13,495.11 L615.52,495.11 L615.90,495.11 L616.29,495.10 L616.67,495.10 L617.06,495.10 L617.44,495.10 L617.83,495.09 L618.21,495.09 L618.60,495.08 L618.98,495.08 L619.37,495.08 L619.75,495.07 L620.14,495.07 L620.52,495.06 L620.91,495.06 L621.29,495.05 L621.68,495.05 L622.06,495.04 L622.45,495.04 L622.83,495.03 L623.22,495.02 L623.60,495.02 L623.99,495.01 L624.37,495.00 L624.76,495.00 L625.14,494.99 L625.53,494.98 L625.91,494.97 L626.30,494.96 L626.68,494.95 L627.07,494.94 L627.45,494.92 L627.84,494.91 L628.22,494.89 L628.61,494.87 L628.99,494.86 L629.38,494.84 L629.76,494.82 L630.15,494.79 L630.53,494.77 L630.91,494.74 L631.30,494.72 L631.68,494.69 L632.07,494.66 L632.45,494.63 L632.84,494.60 L633.22,494.56 L633.61,494.53 L633.99,494.49 L634.38,494.45 L634.76,494.41 L635.15,494.37 L635.53,494.30 L635.92,494.23 L636.30,494.14 L636.69,494.03 L637.07,493.92 L637.46,493.79 L637.84,493.66 L638.23,493.52 L638.61,493.38 L639.00,493.24 L639.38,493.09 L639.77,492.94 L640.15,492.80 L640.54,492.64 L640.92,492.48 L641.31,492.32 L641.69,492.14 L642.08,491.96 L642.46,491.77 L642.85,491.57 L643.23,491.36 L643.62,491.14 L644.00,490.90 L644.39,490.66 L644.77,490.41 L645.16,490.14 L645.54,489.85 L645.93,489.53 L646.31,489.20 L646.69,488.84 L647.08,488.47 L647.46,488.08 L647.85,487.67 L648.23,487.25 L648.62,486.81 L649.00,486.36 L649.39,485.89 L649.77,485.41 L650.16,484.91 L650.54,484.37 L650.93,483.81 L651.31,483.21 L651.70,482.58 L652.08,481.92 L652.47,481.23 L652.85,480.52 L653.24,479.78 L653.62,479.00 L654.01,478.18 L654.39,477.29 L654.78,476.35 L655.16,475.36 L655.55,474.34 L655.93,473.28 L656.32,472.20 L656.70,471.11 L657.09,469.98 L657.47,468.81 L657.86,467.59 L658.24,466.33 L658.63,465.05 L659.01,463.75 L659.40,462.43 L659.78,461.11 L660.17,459.79 L660.55,458.45 L660.94,457.09 L661.32,455.71 L661.71,454.30 L662.09,452.87 L662.47,451.41 L662.86,449.90 L663.24,448.35 L663.63,446.73 L664.01,445.07 L664.40,443.38 L664.78,441.69 L665.17,440.01 L665.55,438.35 L665.94,436.69 L666.32,435.03 L666.71,433.35 L667.09,431.64 L667.48,429.89 L667.86,428.09 L668.25,426.25 L668.63,424.37 L669.02,422.46 L669.40,420.53 L669.79,418.59 L670.17,416.64 L670.56,414.67 L670.94,412.69 L671.33,410.68 L671.71,408.65 L672.10,406.61 L672.48,404.54 L672.87,402.43 L673.25,400.28 L673.64,398.13 L674.02,396.01 L674.41,393.92 L674.79,391.89 L675.18,389.89 L675.56,387.91 L675.95,385.96 L676.33,384.05 L676.72,382.20 L677.10,380.41 L677.49,378.70 L677.87,377.09 L678.26,375.54 L678.64,374.02 L679.02,372.49 L679.41,370.94 L679.79,369.31 L680.18,367.59 L680.56,365.78 L680.95,363.90 L681.33,361.99 L681.72,360.10 L682.10,358.24 L682.49,356.46 L682.87,354.80 L683.26,353.23 L683.64,351.71 L684.03,350.24 L684.41,348.82 L684.80,347.46 L685.18,346.14 L685.57,344.86 L685.95,343.60 L686.34,342.37 L686.72,341.16 L687.11,339.99 L687.49,338.88 L687.88,337.83 L688.26,336.85 L688.65,335.95 L689.03,335.10 L689.42,334.27 L689.80,333.47 L690.19,332.71 L690.57,331.99 L690.96,331.31 L691.34,330.68 L691.73,330.09 L692.11,329.56 L692.50,329.08 L692.88,328.61 L693.27,328.15 L693.65,327.71 L694.04,327.30 L694.42,326.93 L694.80,326.59 L695.19,326.31 L695.57,326.08 L695.96,325.91 L696.34,325.79 L696.73,325.67 L697.11,325.55 L697.50,325.45 L697.88,325.35 L698.27,325.26 L698.65,325.18 L699.04,325.11 L699.42,325.05 L699.81,325.00 L700.19,324.96 L700.58,324.94 L700.96,324.94 L701.35,324.94 L701.73,324.97 L702.12,325.01 L702.50,325.06 L702.89,325.12 L703.27,325.20 L703.66,325.28 L704.04,325.38 L704.43,325.48 L704.81,325.58 L705.20,325.74 L705.58,325.95 L705.97,326.22 L706.35,326.53 L706.74,326.87 L707.12,327.25 L707.51,327.64 L707.89,328.05 L708.28,328.47 L708.66,328.88 L709.05,329.34 L709.43,329.84 L709.82,330.38 L710.20,330.95 L710.58,331.55 L710.97,332.17 L711.35,332.81 L711.74,333.46 L712.12,334.12 L712.51,334.80 L712.89,335.53 L713.28,336.30 L713.66,337.09 L714.05,337.91 L714.43,338.73 L714.82,339.56 L715.20,340.38 L715.59,341.18 L715.97,341.95 L716.36,342.72 L716.74,343.49 L717.13,344.26 L717.51,345.02 L717.90,345.78 L718.28,346.53 L718.67,347.27 L719.05,347.99 L719.44,348.69 L719.82,349.38 L720.21,350.09 L720.59,350.81 L720.98,351.54 L721.36,352.24 L721.75,352.88 L722.13,353.46 L722.52,353.93 L722.90,354.29 L723.29,354.60 L723.67,354.89 L724.06,355.14 L724.44,355.36 L724.83,355.52 L725.21,355.61 L725.31,355.62 M731.66,366.32 L732.04,367.81 L732.43,369.25 L732.81,370.58 L733.20,371.89 L733.58,373.17 L733.97,374.41 L734.35,375.58 L734.74,376.66 L735.12,377.65 L735.51,378.55 L735.89,379.38 L736.28,380.16 L736.66,380.89 L737.05,381.59 L737.43,382.27 L737.82,382.94 L738.20,383.62 L738.58,384.32 L738.97,385.04 L739.35,385.81 L739.74,386.62 L740.12,387.47 L740.51,388.34 L740.89,389.23 L741.28,390.14 L741.66,391.07 L742.05,392.00 L742.43,392.94 L742.82,393.88 L743.20,394.82 L743.59,395.76 L743.97,396.68 L744.36,397.60 L744.74,398.49 L745.13,399.38 L745.51,400.26 L745.90,401.15 L746.28,402.03 L746.67,402.91 L747.05,403.78 L747.44,404.65 L747.82,405.52 L748.21,406.38 L748.59,407.23 L748.98,408.08 L749.36,408.93 L749.75,409.77 L750.13,410.61 L750.52,411.45 L750.90,412.29 L751.29,413.12 L751.67,413.95 L752.06,414.76 L752.44,415.56 L752.83,416.35 L753.21,417.11 L753.60,417.85 L753.98,418.57 L754.37,419.27 L754.75,419.96 L755.13,420.64 L755.52,421.30 L755.90,421.96 L756.29,422.61 L756.67,423.25 L757.06,423.88 L757.44,424.51 L757.83,425.14 L758.21,425.77 L758.60,426.40 L758.98,427.03 L759.37,427.66 L759.75,428.29 L760.14,428.92 L760.52,429.56 L760.91,430.19 L761.29,430.82 L761.68,431.44 L762.06,432.07 L762.45,432.69 L762.83,433.30 L763.22,433.92 L763.60,434.52 L763.99,435.12 L764.37,435.72 L764.76,436.30 L765.14,436.88 L765.53,437.45 L765.91,438.02 L766.30,438.57 L766.68,439.11 L767.07,439.65 L767.45,440.17 L767.84,440.69 L768.22,441.21 L768.61,441.71 L768.99,442.21 L769.38,442.70 L769.76,443.19 L770.15,443.67 L770.53,444.15 L770.91,444.63 L771.30,445.10 L771.68,445.57 L772.07,446.04 L772.45,446.50 L772.84,446.97 L773.22,447.43 L773.61,447.88 L773.99,448.34 L774.38,448.79 L774.76,449.24 L775.15,449.68 L775.53,450.12 L775.92,450.56 L776.30,451.00 L776.69,451.43 L777.07,451.87 L777.46,452.30 L777.84,452.72 L778.23,453.15 L778.61,453.57 L779.00,454.00 L779.38,454.42 L779.77,454.84 L780.15,455.26 L780.54,455.68 L780.92,456.10 L781.31,456.52 L781.69,456.94 L782.08,457.35 L782.46,457.77 L782.85,458.19 L783.23,458.60 L783.62,459.02 L784.00,459.43 L784.39,459.83 L784.77,460.24 L785.16,460.64 L785.54,461.04 L785.93,461.43 L786.31,461.82 L786.69,462.21 L787.08,462.58 L787.46,462.96 L787.85,463.33 L788.23,463.69 L788.62,464.04 L789.00,464.38 L789.39,464.71 L789.77,465.04 L790.16,465.37 L790.54,465.69 L790.93,466.02 L791.31,466.34 L791.70,466.67 L792.08,467.00 L792.47,467.34 L792.85,467.69 L793.24,468.04 L793.62,468.41 L794.01,468.79 L794.39,469.19 L794.78,469.59 L795.16,470.00 L795.55,470.41 L795.93,470.82 L796.32,471.23 L796.70,471.62 L797.09,472.00 L797.47,472.36 L797.86,472.73 L798.24,473.09 L798.63,473.45 L799.01,473.81 L799.40,474.17 L799.78,474.52 L800.17,474.87 L800.55,475.21 L800.94,475.56 L801.32,475.89 L801.71,476.23 L802.09,476.55 L802.48,476.88 L802.86,477.19 L803.24,477.50 L803.63,477.81 L804.01,478.11 L804.40,478.40 L804.78,478.68 L805.17,478.96 L805.55,479.23 L805.94,479.50 L806.32,479.77 L806.71,480.03 L807.09,480.30 L807.48,480.55 L807.86,480.80 L808.25,481.05 L808.63,481.30 L809.02,481.54 L809.40,481.77 L809.79,482.00 L810.17,482.23 L810.56,482.45 L810.94,482.66 L811.33,482.87 L811.71,483.08 L812.10,483.27 L812.48,483.47 L812.87,483.66 L813.25,483.84 L813.64,484.03 L814.02,484.21 L814.41,484.38 L814.79,484.55 L815.18,484.72 L815.56,484.89 L815.95,485.05 L816.33,485.21 L816.72,485.37 L817.10,485.52 L817.49,485.67 L817.87,485.82 L818.26,485.97 L818.64,486.11 L819.02,486.26 L819.41,486.40 L819.79,486.54 L820.18,486.67 L820.56,486.81 L820.95,486.95 L821.33,487.08 L821.72,487.22 L822.10,487.35 L822.49,487.48 L822.87,487.61 L823.26,487.74 L823.64,487.86 L824.03,487.99 L824.41,488.11 L824.80,488.23 L825.18,488.35 L825.57,488.46 L825.95,488.57 L826.34,488.68 L826.72,488.79 L827.11,488.89 L827.49,488.99 L827.88,489.08 L828.26,489.18 L828.65,489.26 L829.03,489.35 L829.42,489.44 L829.80,489.53 L830.19,489.61 L830.57,489.70 L830.96,489.78 L831.34,489.86 L831.73,489.94 L832.11,490.02 L832.50,490.10 L832.88,490.18 L833.27,490.25 L833.65,490.32 L834.04,490.40 L834.42,490.46 L834.80,490.53 L835.19,490.60 L835.57,490.66 L835.96,490.72 L836.34,490.78 L836.73,490.84 L837.11,490.90 L837.50,490.95 L837.88,491.00 L838.27,491.05 L838.65,491.09 L838.75,491.10" fill="none" stroke="#0000ff" stroke-width="2.0" stroke-linejoin="round"/>
<path d="M631.88,495.09 L632.17,495.09 L632.45,495.09 L632.74,495.08 L633.03,495.08 L633.32,495.08 L633.61,495.07 L633.90,495.07 L634.19,495.06 L634.47,495.06 L634.76,495.05 L635.05,495.05 L635.34,495.04 L635.63,495.04 L635.92,495.03 L636.21,495.02 L636.50,495.02 L636.78,495.01 L637.07,495.00 L637.36,495.00 L637.65,494.98 L637.94,494.96 L638.23,494.93 L638.52,494.90 L638.80,494.85 L639.09,494.80 L639.38,494.75 L639.67,494.69 L639.96,494.62 L640.25,494.55 L640.54,494.47 L640.83,494.39 L641.11,494.30 L641.40,494.22 L641.69,494.13 L641.98,494.04 L642.27,493.94 L642.56,493.85 L642.85,493.75 L643.13,493.66 L643.42,493.56 L643.71,493.47 L644.00,493.37 L644.29,493.26 L644.58,493.15 L644.87,493.03 L645.16,492.90 L645.44,492.77 L645.73,492.63 L646.02,492.48 L646.31,492.34 L646.60,492.19 L646.89,492.03 L647.18,491.87 L647.46,491.72 L647.75,491.55 L648.04,491.39 L648.33,491.23 L648.62,491.06 L648.91,490.90 L649.20,490.73 L649.49,490.57 L649.77,490.41 L650.06,490.24 L650.35,490.07 L650.64,489.89 L650.93,489.71 L651.22,489.52 L651.51,489.33 L651.79,489.14 L652.08,488.94 L652.37,488.75 L652.66,488.56 L652.95,488.37 L653.24,488.18 L653.53,488.00 L653.82,487.82 L654.10,487.65 L654.39,487.49 L654.68,487.34 L654.97,487.19 L655.26,487.05 L655.55,486.91 L655.84,486.76 L656.12,486.62 L656.41,486.48 L656.70,486.34 L656.99,486.21 L657.28,486.08 L657.57,485.95 L657.86,485.83 L658.15,485.72 L658.43,485.61 L658.72,485.51 L659.01,485.41 L659.30,485.33 L659.59,485.25 L659.88,485.18 L660.17,485.12 L660.45,485.05 L660.74,484.98 L661.03,484.92 L661.32,484.86 L661.61,484.80 L661.90,484.74 L662.19,484.69 L662.47,484.64 L662.76,484.60 L663.05,484.57 L663.34,484.54 L663.63,484.52 L663.92,484.51 L664.21,484.51 L664.50,484.51 L664.78,484.53 L665.07,484.54 L665.36,484.56 L665.65,484.59 L665.94,484.62 L666.23,484.66 L666.52,484.69 L666.80,484.73 L667.09,484.77 L667.38,484.82 L667.67,484.86 L667.96,484.91 L668.25,484.95 L668.54,485.00 L668.83,485.05 L669.11,485.10 L669.40,485.16 L669.69,485.23 L669.98,485.31 L670.27,485.38 L670.56,485.47 L670.85,485.55 L671.13,485.64 L671.42,485.73 L671.71,485.82 L672.00,485.92 L672.29,486.01 L672.58,486.10 L672.87,486.19 L673.16,486.28 L673.44,486.37 L673.73,486.45 L674.02,486.53 L674.31,486.61 L674.60,486.68 L674.89,486.74 L675.18,486.81 L675.46,486.87 L675.75,486.94 L676.04,487.00 L676.33,487.07 L676.62,487.13 L676.91,487.19 L677.20,487.25 L677.49,487.31 L677.77,487.37 L678.06,487.43 L678.35,487.49 L678.64,487.54 L678.93,487.59 L679.22,487.65 L679.51,487.70 L679.79,487.74 L680.08,487.79 L680.37,487.83 L680.66,487.87 L680.95,487.91 L681.24,487.95 L681.53,487.98 L681.82,488.02 L682.10,488.05 L682.39,488.09 L682.68,488.12 L682.97,488.15 L683.26,488.19 L683.55,488.22 L683.84,488.25 L684.12,488.28 L684.41,488.31 L684.70,488.33 L684.99,488.36 L685.28,488.38 L685.57,488.40 L685.86,488.43 L686.15,488.45 L686.43,488.46 L686.72,488.48 L687.01,488.49 L687.30,488.51 L687.59,488.52 L687.88,488.53 L688.17,488.54 L688.45,488.55 L688.74,488.56 L689.03,488.57 L689.32,488.58 L689.61,488.59 L689.90,488.59 L690.19,488.60 L690.47,488.61 L690.76,488.62 L691.05,488.62 L691.34,488.63 L691.63,488.63 L691.92,488.64 L692.21,488.65 L692.50,488.65 L692.78,488.66 L693.07,488.66 L693.36,488.67 L693.65,488.67 L693.94,488.68 L694.23,488.68 L694.52,488.69 L694.80,488.69 L695.09,488.70 L695.38,488.70 L695.67,488.71 L695.96,488.72 L696.25,488.72 L696.54,488.73 L696.83,488.73 L697.11,488.74 L697.40,488.75 L697.69,488.75 L697.98,488.76 L698.27,488.77 L698.56,488.78 L698.85,488.79 L699.13,488.80 L699.42,488.80 L699.71,488.81 L700.00,488.82 L700.29,488.84 L700.58,488.85 L700.87,488.86 L701.16,488.87 L701.44,488.88 L701.73,488.89 L702.02,488.90 L702.31,488.91 L702.60,488.93 L702.89,488.94 L703.18,488.95 L703.46,488.97 L703.75,488.98 L704.04,489.00 L704.33,489.01 L704.62,489.03 L704.91,489.05 L705.20,489.06 L705.49,489.08 L705.77,489.10 L706.06,489.12 L706.35,489.14 L706.64,489.16 L706.93,489.18 L707.22,489.21 L707.51,489.23 L707.79,489.26 L708.08,489.29 L708.37,489.33 L708.66,489.37 L708.95,489.41 L709.24,489.45 L709.53,489.50 L709.82,489.55 L710.10,489.60 L710.39,489.65 L710.68,489.70 L710.97,489.75 L711.26,489.81 L711.55,489.86 L711.84,489.92 L712.12,489.97 L712.41,490.03 L712.70,490.08 L712.99,490.13 L713.28,490.18 L713.57,490.24 L713.86,490.29 L714.15,490.33 L714.43,490.38 L714.72,490.42 L715.01,490.47 L715.30,490.52 L715.59,490.57 L715.88,490.62 L716.17,490.68 L716.45,490.73 L716.74,490.79 L717.03,490.84 L717.32,490.89 L717.61,490.95 L717.90,491.00 L718.19,491.04 L718.47,491.09 L718.76,491.13 L719.05,491.17 L719.34,491.20 L719.63,491.23 L719.92,491.25 L720.21,491.27 L720.50,491.28 L720.78,491.28 L721.07,491.28 L721.36,491.28 L721.65,491.27 L721.94,491.26 L722.23,491.25 L722.52,491.23 L722.80,491.21 L723.09,491.18 L723.38,491.07 L723.67,490.91 L723.96,490.69 L724.25,490.39 L724.54,489.78 L724.83,488.84 L725.11,487.70 L725.40,486.33 L725.69,484.43 L725.98,482.13 L726.08,481.31 M731.18,486.39 L731.56,487.47 L731.95,488.42 L732.33,489.27 L732.72,489.93 L733.10,490.50 L733.49,491.01 L733.87,491.44 L734.26,491.76 L734.64,491.94 L735.02,492.06 L735.41,492.16 L735.79,492.25 L736.18,492.32 L736.56,492.39 L736.95,492.44 L737.33,492.50 L737.72,492.54 L738.10,492.59 L738.49,492.63 L738.87,492.68 L739.26,492.72 L739.64,492.75 L740.03,492.79 L740.41,492.83 L740.80,492.86 L741.18,492.89 L741.57,492.92 L741.95,492.95 L742.34,492.98 L742.72,493.00 L743.11,493.03 L743.49,493.06 L743.88,493.08 L744.26,493.11 L744.65,493.13 L745.03,493.16 L745.42,493.19 L745.80,493.21 L746.19,493.24 L746.57,493.27 L746.96,493.29 L747.34,493.32 L747.73,493.35 L748.11,493.38 L748.50,493.41 L748.88,493.44 L749.27,493.48 L749.65,493.51 L750.04,493.54 L750.42,493.57 L750.80,493.60 L751.19,493.63 L751.57,493.66 L751.96,493.69 L752.34,493.72 L752.73,493.75 L753.11,493.78 L753.50,493.81 L753.88,493.84 L754.27,493.86 L754.65,493.89 L755.04,493.92 L755.42,493.94 L755.81,493.97 L756.19,493.99 L756.58,494.02 L756.96,494.04 L757.35,494.06 L757.73,494.08 L758.12,494.10 L758.50,494.12 L758.89,494.14 L759.27,494.15 L759.66,494.17 L760.04,494.19 L760.43,494.21 L760.81,494.22 L761.20,494.24 L761.58,494.26 L761.97,494.27 L762.35,494.29 L762.74,494.30 L763.12,494.32 L763.51,494.33 L763.89,494.35 L764.28,494.36 L764.66,494.38 L765.05,494.39 L765.43,494.41 L765.82,494.42 L766.20,494.43 L766.58,494.45 L766.97,494.46 L767.35,494.47 L767.74,494.48 L768.12,494.49 L768.51,494.51 L768.89,494.52 L769.28,494.53 L769.66,494.54 L770.05,494.55 L770.43,494.56 L770.82,494.57 L771.20,494.58 L771.59,494.59 L771.97,494.60 L772.36,494.61 L772.74,494.62 L773.13,494.62 L773.51,494.63 L773.90,494.64 L774.28,494.65 L774.67,494.66 L775.05,494.67 L775.44,494.68 L775.82,494.68 L776.21,494.69 L776.59,494.70 L776.98,494.71 L777.36,494.72 L777.75,494.73 L778.13,494.73 L778.52,494.74 L778.90,494.75 L779.29,494.76 L779.67,494.76 L780.06,494.77 L780.44,494.78 L780.83,494.79 L781.21,494.79 L781.60,494.80 L781.98,494.81 L782.37,494.81 L782.75,494.82 L783.13,494.82 L783.52,494.83 L783.90,494.84 L784.29,494.84 L784.67,494.85 L785.06,494.85 L785.44,494.86 L785.83,494.86 L786.21,494.87 L786.60,494.88 L786.98,494.88 L787.37,494.88 L787.75,494.89 L788.14,494.89 L788.52,494.90 L788.91,494.90 L789.29,494.91 L789.68,494.91 L790.06,494.91 L790.45,494.92 L790.83,494.92 L791.22,494.92 L791.60,494.93 L791.99,494.93 L792.37,494.93 L792.76,494.94 L793.14,494.94 L793.53,494.94 L793.91,494.94 L794.30,494.95 L794.68,494.95 L795.07,494.95 L795.45,494.96 L795.84,494.96 L796.22,494.96 L796.61,494.96 L796.99,494.97 L797.38,494.97 L797.76,494.97 L798.15,494.97 L798.53,494.98 L798.91,494.98 L799.30,494.98 L799.68,494.98 L800.07,494.99 L800.45,494.99 L800.84,494.99 L801.22,494.99 L801.61,495.00 L801.99,495.00 L802.38,495.00 L802.76,495.00 L803.15,495.00 L803.53,495.01 L803.92,495.01 L804.30,495.01 L804.69,495.01 L805.07,495.01 L805.46,495.02 L805.84,495.02 L806.23,495.02 L806.61,495.02 L807.00,495.02 L807.38,495.03 L807.77,495.03 L808.15,495.03 L808.54,495.03 L808.92,495.03 L809.31,495.03 L809.69,495.03 L810.08,495.04 L810.46,495.04 L810.85,495.04 L811.23,495.04 L811.62,495.04 L812.00,495.04 L812.39,495.04 L812.77,495.04 L813.16,495.04 L813.54,495.04 L813.93,495.05 L814.31,495.05 L814.69,495.05 L815.08,495.05 L815.46,495.05 L815.85,495.05 L816.23,495.05 L816.62,495.05 L817.00,495.05 L817.39,495.05 L817.77,495.05 L818.16,495.05 L818.54,495.05 L818.93,495.05 L819.31,495.05 L819.70,495.06 L820.08,495.06 L820.47,495.06 L820.85,495.06 L821.24,495.06 L821.62,495.06 L822.01,495.06 L822.39,495.06 L822.78,495.06 L823.16,495.06 L823.55,495.06 L823.93,495.06 L824.32,495.06 L824.70,495.06 L825.09,495.06 L825.47,495.06 L825.86,495.06 L826.24,495.06 L826.63,495.07 L827.01,495.07 L827.40,495.07 L827.78,495.07 L828.17,495.07 L828.55,495.07 L828.94,495.07 L829.32,495.07 L829.71,495.07 L830.09,495.07 L830.48,495.07 L830.86,495.07 L831.24,495.07 L831.63,495.07 L832.01,495.07 L832.40,495.07 L832.78,495.07 L833.17,495.07 L833.55,495.07 L833.94,495.07 L834.32,495.07 L834.71,495.07 L835.09,495.07 L835.48,495.07 L835.86,495.07 L836.25,495.07 L836.63,495.07 L837.02,495.07 L837.40,495.07 L837.79,495.07 L838.17,495.07 L838.56,495.07 L838.75,495.07" fill="none" stroke="#ff0000" stroke-width="2.0" stroke-linejoin="round"/>
<polygon points="723.7,301.3 730.5,301.3 730.5,349.3 734.3000000000001,349.3 727.1,355.6 719.9,349.3 723.7,349.3" fill="#ff0000"/>
<polygon points="724.5,421.5 732.0,421.5 732.0,469 735.75,469 728.25,476.6 720.75,469 724.5,469" fill="#ff0000"/>
<line x1="734.8" y1="331.9" x2="773" y2="331.9" stroke="#ff0000" stroke-width="2.2" />
<line x1="734.8" y1="352.2" x2="773" y2="352.2" stroke="#0000ff" stroke-width="2.2" />
<text x="776.8" y="337.2" font-family="'Liberation Sans', Arial, sans-serif" font-size="16.3" font-weight="normal" fill="#000" text-anchor="start" textLength="60.2" lengthAdjust="spacingAndGlyphs" >Toluene</text>
<text x="777.4" y="357.7" font-family="'Liberation Sans', Arial, sans-serif" font-size="16.3" font-weight="normal" fill="#000" text-anchor="start" >DMSO</text>
<text x="685.5" y="406.8" font-family="'Liberation Serif', 'Times New Roman', serif" font-size="19" font-weight="normal" fill="#000" text-anchor="start" textLength="98.3" lengthAdjust="spacingAndGlyphs" >635 nm laser</text>
<text transform="translate(536.3,438.2) rotate(-90)" font-family="'Liberation Sans', Arial, sans-serif" font-size="21.5" font-weight="bold" stroke="#000" stroke-width="0.3" textLength="88.3" lengthAdjust="spacingAndGlyphs">Intensity</text>
<text x="877.3" y="61.5" font-family="'Liberation Sans', Arial, sans-serif" font-size="22" font-weight="normal" fill="#000" text-anchor="start" textLength="29.8" lengthAdjust="spacingAndGlyphs" >(e)</text>
<line x1="978.25" y1="31.2" x2="978.25" y2="226.75" stroke="#000" stroke-width="2" />
<line x1="977.25" y1="225.75" x2="1219.25" y2="225.75" stroke="#000" stroke-width="2" />
<line x1="973.75" y1="49.44999999999999" x2="978.25" y2="49.44999999999999" stroke="#000" stroke-width="1.8" />
<line x1="973.75" y1="84.70999999999998" x2="978.25" y2="84.70999999999998" stroke="#000" stroke-width="1.8" />
<line x1="973.75" y1="119.96999999999998" x2="978.25" y2="119.96999999999998" stroke="#000" stroke-width="1.8" />
<line x1="973.75" y1="155.23" x2="978.25" y2="155.23" stroke="#000" stroke-width="1.8" />
<line x1="973.75" y1="190.49" x2="978.25" y2="190.49" stroke="#000" stroke-width="1.8" />
<line x1="973.75" y1="225.75" x2="978.25" y2="225.75" stroke="#000" stroke-width="1.8" />
<line x1="975.45" y1="32.1" x2="978.25" y2="32.1" stroke="#000" stroke-width="1.4" />
<line x1="975.45" y1="208.12" x2="978.25" y2="208.12" stroke="#000" stroke-width="1.4" />
<line x1="975.45" y1="172.85999999999999" x2="978.25" y2="172.85999999999999" stroke="#000" stroke-width="1.4" />
<line x1="975.45" y1="137.6" x2="978.25" y2="137.6" stroke="#000" stroke-width="1.4" />
<line x1="975.45" y1="102.33999999999999" x2="978.25" y2="102.33999999999999" stroke="#000" stroke-width="1.4" />
<line x1="975.45" y1="67.07999999999998" x2="978.25" y2="67.07999999999998" stroke="#000" stroke-width="1.4" />
<line x1="978.25" y1="225.75" x2="978.25" y2="228.95" stroke="#000" stroke-width="1.6" />
<text x="978.25" y="241.8" font-family="'Liberation Sans', Arial, sans-serif" font-size="13" font-weight="normal" fill="#000" text-anchor="middle" >500</text>
<line x1="1026.25" y1="225.75" x2="1026.25" y2="228.95" stroke="#000" stroke-width="1.6" />
<text x="1026.25" y="241.8" font-family="'Liberation Sans', Arial, sans-serif" font-size="13" font-weight="normal" fill="#000" text-anchor="middle" >550</text>
<line x1="1074.25" y1="225.75" x2="1074.25" y2="228.95" stroke="#000" stroke-width="1.6" />
<text x="1074.25" y="241.8" font-family="'Liberation Sans', Arial, sans-serif" font-size="13" font-weight="normal" fill="#000" text-anchor="middle" >600</text>
<line x1="1122.25" y1="225.75" x2="1122.25" y2="228.95" stroke="#000" stroke-width="1.6" />
<text x="1122.25" y="241.8" font-family="'Liberation Sans', Arial, sans-serif" font-size="13" font-weight="normal" fill="#000" text-anchor="middle" >650</text>
<line x1="1170.25" y1="225.75" x2="1170.25" y2="228.95" stroke="#000" stroke-width="1.6" />
<text x="1170.25" y="241.8" font-family="'Liberation Sans', Arial, sans-serif" font-size="13" font-weight="normal" fill="#000" text-anchor="middle" >700</text>
<line x1="1218.25" y1="225.75" x2="1218.25" y2="228.95" stroke="#000" stroke-width="1.6" />
<text x="1218.25" y="241.8" font-family="'Liberation Sans', Arial, sans-serif" font-size="13" font-weight="normal" fill="#000" text-anchor="middle" >750</text>
<line x1="1002.25" y1="225.75" x2="1002.25" y2="227.95" stroke="#000" stroke-width="1.2" />
<line x1="1050.25" y1="225.75" x2="1050.25" y2="227.95" stroke="#000" stroke-width="1.2" />
<line x1="1098.25" y1="225.75" x2="1098.25" y2="227.95" stroke="#000" stroke-width="1.2" />
<line x1="1146.25" y1="225.75" x2="1146.25" y2="227.95" stroke="#000" stroke-width="1.2" />
<line x1="1194.25" y1="225.75" x2="1194.25" y2="227.95" stroke="#000" stroke-width="1.2" />
<text x="971.3" y="230.35" font-family="'Liberation Sans', Arial, sans-serif" font-size="13" font-weight="normal" fill="#000" text-anchor="end" >0.0</text>
<text x="971.3" y="195.09" font-family="'Liberation Sans', Arial, sans-serif" font-size="13" font-weight="normal" fill="#000" text-anchor="end" >0.2</text>
<text x="971.3" y="159.82999999999998" font-family="'Liberation Sans', Arial, sans-serif" font-size="13" font-weight="normal" fill="#000" text-anchor="end" >0.4</text>
<text x="971.3" y="124.56999999999998" font-family="'Liberation Sans', Arial, sans-serif" font-size="13" font-weight="normal" fill="#000" text-anchor="end" >0.6</text>
<text x="971.3" y="89.30999999999997" font-family="'Liberation Sans', Arial, sans-serif" font-size="13" font-weight="normal" fill="#000" text-anchor="end" >0.8</text>
<text x="971.3" y="54.04999999999999" font-family="'Liberation Sans', Arial, sans-serif" font-size="13" font-weight="normal" fill="#000" text-anchor="end" >1.0</text>
<text x="1010.75" y="265" font-family="'Liberation Sans', Arial, sans-serif" font-size="21.5" font-weight="bold" fill="#000" text-anchor="start" textLength="175" lengthAdjust="spacingAndGlyphs" stroke="#000" stroke-width="0.3">Wavelength (nm)</text>
<path d="M990.25,224.74 L990.73,224.71 L991.21,224.68 L991.69,224.66 L992.17,224.63 L992.65,224.61 L993.13,224.59 L993.61,224.57 L994.09,224.56 L994.57,224.54 L995.05,224.52 L995.53,224.51 L996.01,224.49 L996.49,224.47 L996.97,224.45 L997.45,224.43 L997.93,224.41 L998.41,224.38 L998.89,224.36 L999.37,224.33 L999.85,224.30 L1000.33,224.26 L1000.81,224.23 L1001.29,224.18 L1001.77,224.13 L1002.25,224.06 L1002.73,223.97 L1003.21,223.87 L1003.69,223.75 L1004.17,223.62 L1004.65,223.48 L1005.13,223.33 L1005.61,223.17 L1006.09,222.99 L1006.57,222.80 L1007.05,222.55 L1007.53,222.26 L1008.01,221.93 L1008.49,221.57 L1008.97,221.18 L1009.45,220.76 L1009.93,220.32 L1010.41,219.88 L1010.89,219.41 L1011.37,218.90 L1011.85,218.35 L1012.33,217.75 L1012.81,217.10 L1013.29,216.40 L1013.77,215.65 L1014.25,214.85 L1014.73,213.95 L1015.21,212.93 L1015.69,211.81 L1016.17,210.58 L1016.65,209.25 L1017.13,207.85 L1017.61,206.34 L1018.09,204.63 L1018.57,202.75 L1019.05,200.75 L1019.53,198.67 L1020.01,196.54 L1020.49,194.33 L1020.97,192.01 L1021.45,189.58 L1021.93,187.02 L1022.41,184.32 L1022.89,181.37 L1023.37,178.20 L1023.85,174.94 L1024.33,171.73 L1024.81,168.60 L1025.29,165.45 L1025.77,162.14 L1026.25,158.52 L1026.73,154.48 L1027.21,150.24 L1027.69,146.03 L1028.17,141.74 L1028.65,137.43 L1029.13,133.18 L1029.61,129.06 L1030.09,125.03 L1030.57,121.02 L1031.05,116.95 L1031.53,112.72 L1032.01,108.34 L1032.49,104.01 L1032.97,99.90 L1033.45,96.03 L1033.93,92.28 L1034.41,88.65 L1034.89,85.13 L1035.37,81.71 L1035.85,78.38 L1036.33,75.15 L1036.81,72.05 L1037.29,69.09 L1037.77,66.25 L1038.25,63.49 L1038.73,60.91 L1039.21,58.65 L1039.69,56.56 L1040.17,54.57 L1040.65,52.91 L1041.13,51.77 L1041.61,50.99 L1042.09,50.28 L1042.57,49.69 L1043.05,49.25 L1043.53,48.99 L1044.01,48.96 L1044.49,49.12 L1044.97,49.42 L1045.45,49.84 L1045.93,50.34 L1046.41,50.89 L1046.89,51.51 L1047.37,52.41 L1047.85,53.58 L1048.33,54.91 L1048.81,56.31 L1049.29,57.69 L1049.77,59.13 L1050.25,60.69 L1050.73,62.30 L1051.21,63.93 L1051.69,65.52 L1052.17,67.08 L1052.65,68.64 L1053.13,70.20 L1053.61,71.76 L1054.09,73.32 L1054.57,74.89 L1055.05,76.47 L1055.53,78.05 L1056.01,79.61 L1056.49,81.14 L1056.97,82.64 L1057.45,84.12 L1057.93,85.58 L1058.41,87.00 L1058.89,88.36 L1059.37,89.66 L1059.85,90.93 L1060.33,92.17 L1060.81,93.37 L1061.29,94.51 L1061.77,95.58 L1062.25,96.55 L1062.73,97.45 L1063.21,98.29 L1063.69,99.07 L1064.17,99.80 L1064.65,100.48 L1065.13,101.12 L1065.61,101.74 L1066.09,102.34 L1066.57,102.90 L1067.05,103.41 L1067.53,103.84 L1068.01,104.20 L1068.49,104.51 L1068.97,104.79 L1069.45,105.06 L1069.93,105.30 L1070.41,105.53 L1070.89,105.74 L1071.37,105.93 L1071.85,106.11 L1072.33,106.27 L1072.81,106.42 L1073.29,106.56 L1073.77,106.67 L1074.25,106.77 L1074.73,106.86 L1075.21,106.95 L1075.69,107.03 L1076.17,107.11 L1076.65,107.20 L1077.13,107.30 L1077.61,107.41 L1078.09,107.54 L1078.57,107.69 L1079.05,107.88 L1079.53,108.11 L1080.01,108.38 L1080.49,108.67 L1080.97,109.00 L1081.45,109.35 L1081.93,109.72 L1082.41,110.11 L1082.89,110.55 L1083.37,111.04 L1083.85,111.57 L1084.33,112.15 L1084.81,112.77 L1085.29,113.41 L1085.77,114.08 L1086.25,114.78 L1086.73,115.55 L1087.21,116.37 L1087.69,117.24 L1088.17,118.15 L1088.65,119.09 L1089.13,120.06 L1089.61,121.04 L1090.09,122.03 L1090.57,123.06 L1091.05,124.13 L1091.53,125.22 L1092.01,126.35 L1092.49,127.50 L1092.97,128.68 L1093.45,129.87 L1093.93,131.11 L1094.41,132.40 L1094.89,133.73 L1095.37,135.08 L1095.85,136.45 L1096.33,137.80 L1096.81,139.14 L1097.29,140.44 L1097.77,141.72 L1098.25,142.98 L1098.73,144.24 L1099.21,145.50 L1099.69,146.76 L1100.17,148.02 L1100.65,149.28 L1101.13,150.56 L1101.61,151.85 L1102.09,153.14 L1102.57,154.44 L1103.05,155.74 L1103.53,157.03 L1104.01,158.31 L1104.49,159.59 L1104.97,160.86 L1105.45,162.14 L1105.93,163.41 L1106.41,164.67 L1106.89,165.92 L1107.37,167.13 L1107.85,168.31 L1108.33,169.45 L1108.81,170.57 L1109.29,171.67 L1109.77,172.76 L1110.25,173.82 L1110.73,174.86 L1111.21,175.88 L1111.69,176.88 L1112.17,177.86 L1112.65,178.84 L1113.13,179.80 L1113.61,180.74 L1114.09,181.66 L1114.57,182.54 L1115.05,183.38 L1115.53,184.17 L1116.01,184.92 L1116.49,185.64 L1116.97,186.34 L1117.45,187.00 L1117.93,187.65 L1118.41,188.27 L1118.89,188.87 L1119.37,189.46 L1119.85,190.03 L1120.33,190.57 L1120.81,191.10 L1121.29,191.61 L1121.77,192.11 L1122.25,192.61 L1122.73,193.10 L1123.21,193.58 L1123.69,194.08 L1124.17,194.57 L1124.65,195.08 L1125.13,195.59 L1125.61,196.10 L1126.09,196.62 L1126.57,197.12 L1127.05,197.63 L1127.53,198.12 L1128.01,198.60 L1128.49,199.06 L1128.97,199.51 L1129.45,199.94 L1129.93,200.37 L1130.41,200.80 L1130.89,201.21 L1131.37,201.62 L1131.85,202.01 L1132.33,202.39 L1132.81,202.76 L1133.29,203.11 L1133.77,203.44 L1134.25,203.75 L1134.73,204.05 L1135.21,204.34 L1135.69,204.62 L1136.17,204.89 L1136.65,205.15 L1137.13,205.41 L1137.61,205.66 L1138.09,205.90 L1138.57,206.14 L1139.05,206.38 L1139.53,206.61 L1140.01,206.85 L1140.49,207.08 L1140.97,207.31 L1141.45,207.54 L1141.93,207.77 L1142.41,207.99 L1142.89,208.21 L1143.37,208.42 L1143.85,208.63 L1144.33,208.84 L1144.81,209.05 L1145.29,209.26 L1145.77,209.47 L1146.25,209.67 L1146.73,209.88 L1147.21,210.10 L1147.69,210.31 L1148.17,210.53 L1148.65,210.75 L1149.13,210.98 L1149.61,211.20 L1150.09,211.43 L1150.57,211.67 L1151.05,211.90 L1151.53,212.13 L1152.01,212.37 L1152.49,212.60 L1152.97,212.84 L1153.45,213.07 L1153.93,213.30 L1154.41,213.52 L1154.89,213.75 L1155.37,213.97 L1155.85,214.19 L1156.33,214.40 L1156.81,214.62 L1157.29,214.83 L1157.77,215.05 L1158.25,215.26 L1158.73,215.47 L1159.21,215.68 L1159.69,215.89 L1160.17,216.09 L1160.65,216.29 L1161.13,216.49 L1161.61,216.68 L1162.09,216.88 L1162.57,217.06 L1163.05,217.24 L1163.53,217.42 L1164.01,217.60 L1164.49,217.78 L1164.97,217.95 L1165.45,218.12 L1165.93,218.29 L1166.41,218.46 L1166.89,218.62 L1167.37,218.78 L1167.85,218.94 L1168.33,219.09 L1168.81,219.24 L1169.29,219.38 L1169.77,219.52 L1170.25,219.66 L1170.73,219.78 L1171.21,219.91 L1171.69,220.03 L1172.17,220.14 L1172.65,220.25 L1173.13,220.36 L1173.61,220.47 L1174.09,220.57 L1174.57,220.68 L1175.05,220.78 L1175.53,220.87 L1176.01,220.97 L1176.49,221.06 L1176.97,221.15 L1177.45,221.25 L1177.93,221.34 L1178.41,221.43 L1178.89,221.51 L1179.37,221.60 L1179.85,221.69 L1180.33,221.78 L1180.81,221.86 L1181.29,221.95 L1181.77,222.03 L1182.25,222.11 L1182.73,222.19 L1183.21,222.26 L1183.69,222.34 L1184.17,222.41 L1184.65,222.48 L1185.13,222.54 L1185.61,222.61 L1186.09,222.67 L1186.57,222.73 L1187.05,222.78 L1187.53,222.84 L1188.01,222.90 L1188.49,222.96 L1188.97,223.01 L1189.45,223.07 L1189.93,223.12 L1190.41,223.18 L1190.89,223.23 L1191.37,223.28 L1191.85,223.33 L1192.33,223.38 L1192.81,223.43 L1193.29,223.47 L1193.77,223.52 L1194.25,223.56 L1194.73,223.60 L1195.21,223.64 L1195.69,223.68 L1196.17,223.71 L1196.65,223.75 L1197.13,223.78 L1197.61,223.81 L1198.09,223.83 L1198.57,223.86 L1199.05,223.89 L1199.53,223.91 L1200.01,223.94 L1200.49,223.96 L1200.97,223.99 L1201.45,224.01 L1201.93,224.04 L1202.41,224.06 L1202.89,224.09 L1203.37,224.11 L1203.85,224.13 L1204.33,224.16 L1204.81,224.18 L1205.29,224.20 L1205.77,224.22 L1206.25,224.24 L1206.73,224.27 L1207.21,224.29 L1207.69,224.31 L1208.17,224.32 L1208.65,224.34 L1209.13,224.36 L1209.61,224.38 L1210.09,224.40 L1210.57,224.41 L1211.05,224.43 L1211.53,224.44 L1212.01,224.45 L1212.49,224.47 L1212.97,224.48 L1213.45,224.49 L1213.93,224.50 L1214.41,224.51 L1214.89,224.52 L1215.37,224.52 L1215.85,224.53 L1216.33,224.54 L1216.81,224.54 L1217.29,224.54 L1217.77,224.54 L1218.25,224.54" fill="none" stroke="#ff0000" stroke-width="2.1" stroke-linejoin="round"/>
<path d="M1014.73,224.73 L1015.21,224.71 L1015.69,224.69 L1016.17,224.68 L1016.65,224.67 L1017.13,224.65 L1017.61,224.64 L1018.09,224.63 L1018.57,224.62 L1019.05,224.61 L1019.53,224.60 L1020.01,224.59 L1020.49,224.58 L1020.97,224.57 L1021.45,224.56 L1021.93,224.55 L1022.41,224.53 L1022.89,224.52 L1023.37,224.50 L1023.85,224.48 L1024.33,224.46 L1024.81,224.44 L1025.29,224.41 L1025.77,224.39 L1026.25,224.35 L1026.73,224.29 L1027.21,224.19 L1027.69,224.06 L1028.17,223.91 L1028.65,223.73 L1029.13,223.54 L1029.61,223.34 L1030.09,223.13 L1030.57,222.91 L1031.05,222.67 L1031.53,222.40 L1032.01,222.09 L1032.49,221.75 L1032.97,221.38 L1033.45,220.99 L1033.93,220.58 L1034.41,220.14 L1034.89,219.69 L1035.37,219.20 L1035.85,218.65 L1036.33,218.06 L1036.81,217.42 L1037.29,216.75 L1037.77,216.04 L1038.25,215.30 L1038.73,214.54 L1039.21,213.73 L1039.69,212.87 L1040.17,211.96 L1040.65,210.99 L1041.13,209.97 L1041.61,208.89 L1042.09,207.74 L1042.57,206.52 L1043.05,205.15 L1043.53,203.67 L1044.01,202.09 L1044.49,200.44 L1044.97,198.76 L1045.45,197.05 L1045.93,195.35 L1046.41,193.60 L1046.89,191.80 L1047.37,189.91 L1047.85,187.91 L1048.33,185.78 L1048.81,183.43 L1049.29,180.76 L1049.77,177.86 L1050.25,174.88 L1050.73,171.93 L1051.21,169.15 L1051.69,166.47 L1052.17,163.81 L1052.65,161.12 L1053.13,158.35 L1053.61,155.53 L1054.09,152.67 L1054.57,149.75 L1055.05,146.75 L1055.53,143.67 L1056.01,140.54 L1056.49,137.38 L1056.97,134.22 L1057.45,131.09 L1057.93,127.97 L1058.41,124.85 L1058.89,121.73 L1059.37,118.62 L1059.85,115.49 L1060.33,112.33 L1060.81,109.13 L1061.29,105.96 L1061.77,102.87 L1062.25,99.90 L1062.73,97.02 L1063.21,94.17 L1063.69,91.42 L1064.17,88.82 L1064.65,86.42 L1065.13,84.27 L1065.61,82.33 L1066.09,80.50 L1066.57,78.71 L1067.05,76.87 L1067.53,74.90 L1068.01,72.81 L1068.49,70.75 L1068.97,68.86 L1069.45,67.19 L1069.93,65.59 L1070.41,64.07 L1070.89,62.63 L1071.37,61.29 L1071.85,60.07 L1072.33,58.96 L1072.81,57.94 L1073.29,56.98 L1073.77,56.08 L1074.25,55.26 L1074.73,54.51 L1075.21,53.83 L1075.69,53.22 L1076.17,52.64 L1076.65,52.10 L1077.13,51.60 L1077.61,51.16 L1078.09,50.79 L1078.57,50.48 L1079.05,50.20 L1079.53,49.93 L1080.01,49.67 L1080.49,49.43 L1080.97,49.24 L1081.45,49.08 L1081.93,48.99 L1082.41,48.95 L1082.89,49.00 L1083.37,49.14 L1083.85,49.36 L1084.33,49.64 L1084.81,49.96 L1085.29,50.31 L1085.77,50.67 L1086.25,51.03 L1086.73,51.38 L1087.21,51.76 L1087.69,52.19 L1088.17,52.64 L1088.65,53.13 L1089.13,53.63 L1089.61,54.14 L1090.09,54.66 L1090.57,55.17 L1091.05,55.67 L1091.53,56.17 L1092.01,56.67 L1092.49,57.17 L1092.97,57.69 L1093.45,58.21 L1093.93,58.76 L1094.41,59.32 L1094.89,59.92 L1095.37,60.54 L1095.85,61.20 L1096.33,61.91 L1096.81,62.66 L1097.29,63.43 L1097.77,64.22 L1098.25,65.03 L1098.73,65.84 L1099.21,66.65 L1099.69,67.44 L1100.17,68.24 L1100.65,69.04 L1101.13,69.85 L1101.61,70.67 L1102.09,71.49 L1102.57,72.32 L1103.05,73.16 L1103.53,74.01 L1104.01,74.87 L1104.49,75.73 L1104.97,76.60 L1105.45,77.47 L1105.93,78.36 L1106.41,79.25 L1106.89,80.16 L1107.37,81.08 L1107.85,82.02 L1108.33,82.98 L1108.81,83.96 L1109.29,84.97 L1109.77,86.00 L1110.25,87.04 L1110.73,88.10 L1111.21,89.17 L1111.69,90.23 L1112.17,91.30 L1112.65,92.37 L1113.13,93.44 L1113.61,94.52 L1114.09,95.61 L1114.57,96.70 L1115.05,97.79 L1115.53,98.89 L1116.01,99.99 L1116.49,101.08 L1116.97,102.17 L1117.45,103.26 L1117.93,104.35 L1118.41,105.46 L1118.89,106.58 L1119.37,107.73 L1119.85,108.89 L1120.33,110.09 L1120.81,111.31 L1121.29,112.56 L1121.77,113.83 L1122.25,115.11 L1122.73,116.39 L1123.21,117.68 L1123.69,118.96 L1124.17,120.23 L1124.65,121.48 L1125.13,122.71 L1125.61,123.93 L1126.09,125.14 L1126.57,126.35 L1127.05,127.56 L1127.53,128.79 L1128.01,130.03 L1128.49,131.30 L1128.97,132.60 L1129.45,133.98 L1129.93,135.43 L1130.41,136.92 L1130.89,138.40 L1131.37,139.86 L1131.85,141.25 L1132.33,142.55 L1132.81,143.73 L1133.29,144.82 L1133.77,145.87 L1134.25,146.86 L1134.73,147.82 L1135.21,148.75 L1135.69,149.67 L1136.17,150.59 L1136.65,151.51 L1137.13,152.45 L1137.61,153.40 L1138.09,154.34 L1138.57,155.28 L1139.05,156.21 L1139.53,157.13 L1140.01,158.04 L1140.49,158.95 L1140.97,159.84 L1141.45,160.72 L1141.93,161.61 L1142.41,162.48 L1142.89,163.36 L1143.37,164.22 L1143.85,165.07 L1144.33,165.91 L1144.81,166.73 L1145.29,167.53 L1145.77,168.31 L1146.25,169.07 L1146.73,169.82 L1147.21,170.55 L1147.69,171.28 L1148.17,172.00 L1148.65,172.70 L1149.13,173.40 L1149.61,174.08 L1150.09,174.76 L1150.57,175.42 L1151.05,176.07 L1151.53,176.71 L1152.01,177.35 L1152.49,177.97 L1152.97,178.58 L1153.45,179.17 L1153.93,179.76 L1154.41,180.33 L1154.89,180.90 L1155.37,181.46 L1155.85,182.02 L1156.33,182.57 L1156.81,183.12 L1157.29,183.67 L1157.77,184.22 L1158.25,184.77 L1158.73,185.32 L1159.21,185.87 L1159.69,186.43 L1160.17,186.98 L1160.65,187.53 L1161.13,188.07 L1161.61,188.62 L1162.09,189.15 L1162.57,189.69 L1163.05,190.22 L1163.53,190.74 L1164.01,191.25 L1164.49,191.75 L1164.97,192.25 L1165.45,192.75 L1165.93,193.24 L1166.41,193.73 L1166.89,194.22 L1167.37,194.70 L1167.85,195.17 L1168.33,195.64 L1168.81,196.10 L1169.29,196.55 L1169.77,196.99 L1170.25,197.42 L1170.73,197.84 L1171.21,198.25 L1171.69,198.65 L1172.17,199.04 L1172.65,199.42 L1173.13,199.79 L1173.61,200.15 L1174.09,200.52 L1174.57,200.87 L1175.05,201.23 L1175.53,201.58 L1176.01,201.93 L1176.49,202.28 L1176.97,202.63 L1177.45,202.99 L1177.93,203.35 L1178.41,203.71 L1178.89,204.08 L1179.37,204.46 L1179.85,204.84 L1180.33,205.23 L1180.81,205.62 L1181.29,206.00 L1181.77,206.38 L1182.25,206.76 L1182.73,207.14 L1183.21,207.50 L1183.69,207.86 L1184.17,208.20 L1184.65,208.53 L1185.13,208.85 L1185.61,209.15 L1186.09,209.43 L1186.57,209.71 L1187.05,209.97 L1187.53,210.22 L1188.01,210.47 L1188.49,210.71 L1188.97,210.95 L1189.45,211.18 L1189.93,211.40 L1190.41,211.63 L1190.89,211.85 L1191.37,212.07 L1191.85,212.29 L1192.33,212.51 L1192.81,212.73 L1193.29,212.95 L1193.77,213.18 L1194.25,213.41 L1194.73,213.63 L1195.21,213.86 L1195.69,214.08 L1196.17,214.31 L1196.65,214.53 L1197.13,214.75 L1197.61,214.96 L1198.09,215.18 L1198.57,215.39 L1199.05,215.59 L1199.53,215.79 L1200.01,215.99 L1200.49,216.18 L1200.97,216.37 L1201.45,216.56 L1201.93,216.74 L1202.41,216.93 L1202.89,217.11 L1203.37,217.29 L1203.85,217.47 L1204.33,217.65 L1204.81,217.82 L1205.29,217.99 L1205.77,218.16 L1206.25,218.32 L1206.73,218.48 L1207.21,218.63 L1207.69,218.78 L1208.17,218.92 L1208.65,219.05 L1209.13,219.18 L1209.61,219.30 L1210.09,219.42 L1210.57,219.54 L1211.05,219.66 L1211.53,219.77 L1212.01,219.88 L1212.49,219.99 L1212.97,220.09 L1213.45,220.20 L1213.93,220.29 L1214.41,220.39 L1214.89,220.48 L1215.37,220.57 L1215.85,220.66 L1216.33,220.74 L1216.81,220.81 L1217.29,220.89 L1217.77,220.96 L1218.25,221.02" fill="none" stroke="#0000ff" stroke-width="2.1" stroke-linejoin="round"/>
<line x1="1126.9" y1="62" x2="1165" y2="62" stroke="#ff0000" stroke-width="2.2" />
<line x1="1126.9" y1="83" x2="1165" y2="83" stroke="#0000ff" stroke-width="2.2" />
<text x="1169.3" y="67.6" font-family="'Liberation Sans', Arial, sans-serif" font-size="16.3" font-weight="normal" fill="#000" text-anchor="start" textLength="60.6" lengthAdjust="spacingAndGlyphs" >Toluene</text>
<text x="1169.9" y="88.2" font-family="'Liberation Sans', Arial, sans-serif" font-size="16.3" font-weight="normal" fill="#000" text-anchor="start" >DMSO</text>
<text transform="translate(941,194) rotate(-90)" font-family="'Liberation Sans', Arial, sans-serif" font-size="22" font-weight="bold" stroke="#000" stroke-width="0.3" textLength="149" lengthAdjust="spacingAndGlyphs">Normalized PL</text>
<text x="877.8" y="333.5" font-family="'Liberation Sans', Arial, sans-serif" font-size="22" font-weight="normal" fill="#000" text-anchor="start" textLength="22.4" lengthAdjust="spacingAndGlyphs" >(f)</text>
<text x="879" y="400.5" font-family="'Liberation Sans', Arial, sans-serif" font-size="17" font-weight="bold" fill="#ff0000" text-anchor="start" textLength="58" lengthAdjust="spacingAndGlyphs" >635 nm</text>
<text x="891" y="421.0" font-family="'Liberation Sans', Arial, sans-serif" font-size="17" font-weight="bold" fill="#ff0000" text-anchor="start" textLength="39" lengthAdjust="spacingAndGlyphs" >laser</text>
<rect x="883.2" y="431.05" width="42.0" height="2.5" fill="#ff0000"/>
<polygon points="934.2,432.3 924.2,427.5 924.2,437.1" fill="#ff0000"/>
<text x="1060.3" y="409.3" font-family="'Liberation Sans', Arial, sans-serif" font-size="17" font-weight="bold" fill="#ff0000" text-anchor="start" textLength="57.5" lengthAdjust="spacingAndGlyphs" >635 nm</text>
<text x="1071.5" y="430.4" font-family="'Liberation Sans', Arial, sans-serif" font-size="17" font-weight="bold" fill="#ff0000" text-anchor="start" textLength="39.5" lengthAdjust="spacingAndGlyphs" >laser</text>
<rect x="1065.5" y="437.85" width="42.700000000000045" height="2.5" fill="#ff0000"/>
<polygon points="1117.2,439.1 1107.2,434.3 1107.2,443.90000000000003" fill="#ff0000"/>
<rect x="941.2" y="291.2" width="112.7" height="239.5" fill="#000"/>
<g clip-path="url(#cp1)"><g filter="url(#b0)">
<rect x="958" y="298" width="84" height="230" fill="#170001" filter="url(#b2)"/>
<rect x="959" y="291.2" width="88" height="10" fill="#340008"/>
<rect x="959" y="291.0" width="88" height="1.3" fill="#a00828" filter="url(#b1)"/>
<polygon points="1031,302 1052,302 1051.6,400 1050.2,440 1048.3,490 1046.4,531 1036.5,531 1033,480 1031.5,440 1033,400 1038,340 1034,316" fill="#760622" filter="url(#b2)"/>
<polygon points="1040.6,318 1045.2,318 1044.4,440 1045.6,500 1045,531 1039.6,531 1040.4,470" fill="#e01c44" filter="url(#b2)"/>
<rect x="1048.8" y="302" width="2.8" height="70" fill="#e42452" filter="url(#b1)"/>
<rect x="1041.2" y="402" width="1.8" height="36" fill="#ffb4c4" opacity="0.75" filter="url(#b1)"/>
<g filter="url(#b1)">
<rect x="955" y="301.2" width="41.5" height="12.6" rx="2.5" fill="#de1638"/>
<rect x="975.6" y="305" width="2.4" height="8" fill="#5a0412"/>
<polygon points="988,314.5 997.5,305 997.5,314.5" fill="#2c0006"/>
<rect x="1016" y="302" width="35" height="11.5" rx="2" fill="#b80e34"/>
<rect x="1027" y="304" width="1.6" height="9" fill="#50000e"/>
<rect x="1034" y="303" width="1.6" height="10" fill="#60081a"/>
<rect x="1040" y="303" width="1.4" height="10" fill="#60081a"/>
<rect x="996" y="302.4" width="20" height="2.0" fill="#800a26"/>
<rect x="962" y="313.4" width="40" height="2.2" fill="#b00e32"/>
<rect x="1012" y="313" width="26" height="2.0" fill="#900c2c"/>
</g>
<rect x="971" y="323.4" width="63" height="4.4" fill="#a81c3a" filter="url(#b2)"/>
<rect x="972" y="317" width="58" height="5" fill="#220003" filter="url(#b1)"/>
<g filter="url(#b2)">
<polygon points="955.6,301 961.4,301 960.4,440 953.8,440" fill="#f01a40"/>
<polygon points="953.8,440 960.4,440 958.8,512 952.2,512" fill="#b80e30"/>
<polygon points="952.2,512 958.8,512 958.6,531 951.4,531" fill="#e01638"/>
</g>
<polygon points="951,395 963,395 962,462 950,462" fill="#e8133c" opacity="0.4" filter="url(#b3)"/>
<path d="M969,314 L967.2,361 Q967.6,373.5 984,376.3 L1014,377.8 Q1035.5,376.5 1036.3,360 L1036.3,316" fill="none" stroke="#e2183c" stroke-width="3.0" filter="url(#b1)"/>
<path d="M969,366 Q972,375 990,377 L1010,377.6" fill="none" stroke="#ff5a80" stroke-width="1.3" filter="url(#b1)"/>
<rect x="962.5" y="418.5" width="76" height="18.5" fill="#c41810" filter="url(#b3)"/>
<rect x="964" y="424" width="73.5" height="10.5" fill="#f05818" filter="url(#b2)"/>
<rect x="964" y="426.6" width="73.4" height="5.4" rx="1.5" fill="#ffe23c" filter="url(#b1)"/>
<ellipse cx="955.5" cy="427.6" rx="2.2" ry="5.2" fill="#fff2e0" filter="url(#b1)"/>
<ellipse cx="955.2" cy="404" rx="1.1" ry="2.4" fill="#ff9ab0" filter="url(#b1)"/>
<ellipse cx="955.2" cy="414" rx="1.1" ry="2.4" fill="#ff9ab0" filter="url(#b1)"/>
<g filter="url(#b1)">
<rect x="952.5" y="517" width="93" height="5.6" fill="#dc1436"/>
<rect x="951.4" y="523" width="8.4" height="8" fill="#a80c2e"/>
<rect x="1036.5" y="514" width="9.6" height="17" fill="#d41234"/>
<rect x="960" y="523.8" width="76.5" height="7" rx="3" fill="#180002"/>
</g>
</g></g>
<text x="958" y="484.7" font-family="'Liberation Serif', 'Times New Roman', serif" font-size="22" font-weight="bold" fill="#fff" text-anchor="start" textLength="76.8" lengthAdjust="spacingAndGlyphs" >Toluene</text>
<rect x="1122.1" y="291.2" width="100.6" height="243.2" fill="#000"/>
<g clip-path="url(#cp2)"><g filter="url(#b0)">
<rect x="1135" y="300" width="72" height="232" fill="#170001"/>
<g filter="url(#b1)">
<rect x="1131" y="291.2" width="83.3" height="11.6" fill="#dc1436"/>
<ellipse cx="1148.2" cy="296.3" rx="3.4" ry="3.2" fill="#4a000c"/>
<ellipse cx="1170.6" cy="296.3" rx="12" ry="3.3" fill="#2c0004"/>
<ellipse cx="1199.8" cy="296.3" rx="5.4" ry="3.2" fill="#4a000c"/>
<rect x="1191" y="292" width="1.6" height="10" fill="#ff6a88"/>
</g>
<g filter="url(#b1)">
<polygon points="1199.4,300 1214.3,300 1214.3,360 1214.6,400 1214.3,534.4 1205,534.4 1204.3,400 1199.4,390" fill="#b40e30"/>
<rect x="1207" y="300" width="7.3" height="100" fill="#e01838"/>
<rect x="1199.6" y="302" width="3" height="86" fill="#d41234"/>
</g>
<rect x="1203.4" y="340" width="1.8" height="55" fill="#60081c" filter="url(#b1)"/>
<rect x="1206" y="398" width="3.2" height="75" fill="#ffd4dc" filter="url(#b1)"/>
<rect x="1209.6" y="398" width="4" height="80" fill="#dc1436" filter="url(#b1)"/>
<rect x="1211.2" y="398" width="1.2" height="60" fill="#ff9ab0" filter="url(#b1)"/>
<ellipse cx="1210.8" cy="327.7" rx="1.4" ry="3" fill="#ffd0d8" filter="url(#b1)"/>
<defs><linearGradient id="g2" x1="0" y1="0" x2="0" y2="1"><stop offset="0" stop-color="#4e0a0e"/><stop offset="0.38" stop-color="#701416"/><stop offset="0.62" stop-color="#5a0e0e"/><stop offset="0.8" stop-color="#480808"/><stop offset="1" stop-color="#400606"/></linearGradient></defs>
<rect x="1142" y="302.5" width="57.4" height="49.5" fill="url(#g2)" filter="url(#b1)"/>
<polygon points="1142,327.6 1197.4,324.6 1197.4,331.4 1142,334.4" fill="#ea3a2e" filter="url(#b2)"/>
<polygon points="1155,341 1194.5,340 1195,350.5 1155,351.5" fill="#2a0404" filter="url(#b1)"/>
<path d="M1155.7,353.8 Q1175,350.3 1194.4,353" fill="none" stroke="#c41a34" stroke-width="1.4" filter="url(#b1)"/>
<g filter="url(#b1)">
<rect x="1130.4" y="291.2" width="4.2" height="225" fill="#e01838"/>
<rect x="1131.3" y="470" width="4" height="50" fill="#a80c2e"/>
<rect x="1135" y="303" width="3.6" height="90" fill="#1c0003"/>
</g>
<rect x="1128.5" y="400" width="7" height="70" fill="#e8133c" opacity="0.4" filter="url(#b2)"/>
<path d="M1140.6,302.5 L1140.6,381 Q1141,395.5 1160,397.4 L1183,397.9 Q1201.6,396 1202,381 L1202,352" fill="none" stroke="#de1638" stroke-width="3.2" filter="url(#b1)"/>
<path d="M1143,388 Q1146,396 1161,397.4 L1183,397.9 Q1198,396.5 1200.5,388" fill="none" stroke="#ffc4cc" stroke-width="1.3" filter="url(#b1)"/>
<ellipse cx="1140.8" cy="379.7" rx="1.7" ry="4.6" fill="#fff0e8" filter="url(#b1)"/>
<ellipse cx="1140.4" cy="356.4" rx="1.2" ry="1.4" fill="#ffb8c4" filter="url(#b1)"/>
<rect x="1139" y="440" width="66" height="18" fill="#7a0a08" filter="url(#b3)"/>
<rect x="1138.5" y="427" width="67" height="21" fill="#e23410" filter="url(#b3)"/>
<rect x="1139" y="431" width="66" height="13" fill="#ff8a30" filter="url(#b2)"/>
<rect x="1139.3" y="433.5" width="65.5" height="7.8" rx="3" fill="#fff6d6" filter="url(#b1)"/>
<ellipse cx="1132.3" cy="436.9" rx="1.8" ry="4.4" fill="#fff0e8" filter="url(#b1)"/>
<g filter="url(#b1)">
<rect x="1136" y="504.3" width="68" height="3.6" fill="#4c0718"/>
<rect x="1131.3" y="514.3" width="83" height="20.2" fill="#b40e30"/>
<rect x="1131.3" y="514.3" width="83" height="7" fill="#dc1638"/>
<rect x="1138.8" y="521.8" width="20.6" height="4.5" rx="1.5" fill="#1c0003"/>
<rect x="1163.2" y="521.8" width="41.6" height="4.5" rx="1.5" fill="#1c0003"/>
<rect x="1136" y="531" width="70" height="3.5" fill="#6e081e"/>
</g>
<polygon points="1122.1,534.4 1122.1,521 1131.5,512 1131.5,534.4" fill="#980a2c" filter="url(#b2)"/>
</g></g>
<text x="1136.6" y="484.9" font-family="'Liberation Serif', 'Times New Roman', serif" font-size="22" font-weight="bold" fill="#fff" text-anchor="start" textLength="69.4" lengthAdjust="spacingAndGlyphs" >DMSO</text>
</svg>
</body></html>
